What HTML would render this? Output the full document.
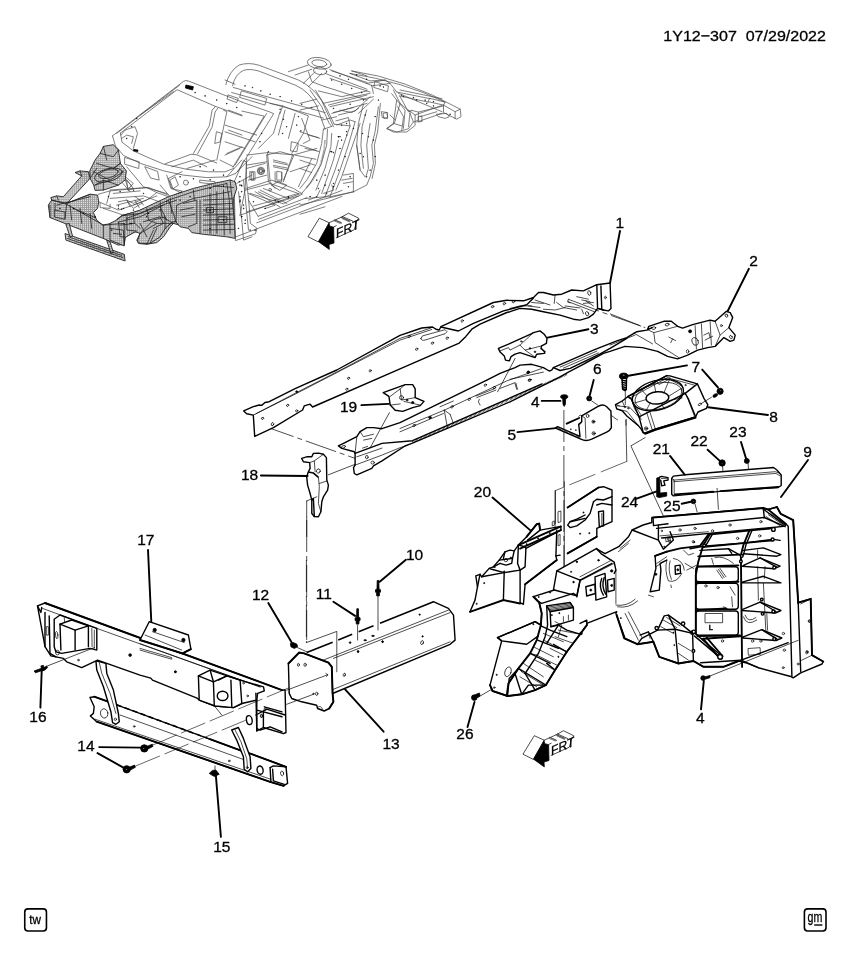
<!DOCTYPE html>
<html><head><meta charset="utf-8"><title>1Y12-307</title>
<style>
html,body{margin:0;padding:0;background:#fff}
svg{display:block;filter:grayscale(1)}
text{font-family:"Liberation Sans",sans-serif;fill:#000;stroke:#000;stroke-width:0.3px}
.k{fill:none;stroke:#000;stroke-width:1.4;stroke-linejoin:round;stroke-linecap:round}
.kw{fill:#fff;stroke:#000;stroke-width:1.4;stroke-linejoin:round;stroke-linecap:round}
.kb{fill:#000;stroke:#000;stroke-width:0.8;stroke-linejoin:round}
.t{fill:none;stroke:#000;stroke-width:0.7;stroke-linejoin:round;stroke-linecap:round}
.tw{fill:#fff;stroke:#000;stroke-width:0.7;stroke-linejoin:round;stroke-linecap:round}
.ld{fill:none;stroke:#000;stroke-width:1.9;stroke-linecap:round}
.dd{fill:none;stroke:#000;stroke-width:0.7;stroke-dasharray:32 4 5 4}
.g{fill:none;stroke:#484848;stroke-width:0.7;stroke-linejoin:round;stroke-linecap:round}
.gw{fill:#fff;stroke:#484848;stroke-width:0.7;stroke-linejoin:round}
.h{fill:url(#hatch);stroke:#222;stroke-width:0.9;stroke-linejoin:round}
.hd{fill:none;stroke:#222;stroke-width:0.8;stroke-linejoin:round;stroke-linecap:round}
.wf{fill:#fff;stroke:none}
.lb{font-size:15.5px}
</style></head>
<body>
<svg width="851" height="960" viewBox="0 0 851 960">
<defs>
<pattern id="hatch" width="2.05" height="2.05" patternUnits="userSpaceOnUse">
<rect width="2.05" height="2.05" fill="#e0e0e0"/>
<rect width="2.05" height="0.75" fill="#999"/>
<rect width="0.75" height="2.05" fill="#999"/>
</pattern>
</defs>
<rect width="851" height="960" fill="#fff"/>
<path class="g" d="M 112.5,135.9 L 183.4,81.4 Q 185.4,80.0 188.4,81.0 L 242.0,102.0"/>
<path class="g" d="M 116.7,133.4 L 179.8,85.0"/>
<path class="g" d="M 120.4,133.1 L 177.1,89.7 L 215.5,106.4 L 242.0,115.9"/>
<path class="g" d="M 140.0,115.1 L 173.4,91.7"/>
<path class="g" d="M 215.5,106.4 L 212.1,110.1 L 209.3,125.9 L 193.4,153.4"/>
<path class="g" d="M 217.6,108.4 L 215.1,112.1 L 212.1,127.1 L 197.6,153.8"/>
<path class="g" d="M 112.5,135.9 L 115.4,145.9 L 123.4,155.4 L 141.7,163.8 L 164.2,171.0 L 183.4,175.1 L 206.8,177.6 L 226.8,176.8 L 235.5,173.5"/>
<path class="g" d="M 120.4,133.1 L 122.0,142.1 L 133.4,150.9 L 150.1,158.4 L 164.2,164.3 L 186.8,169.3 L 208.5,171.8 L 225.1,171.8 L 233.5,168.5"/>
<path class="g" d="M 165.1,163.8 L 190.9,154.3 L 196.8,154.8 L 216.8,163.1"/>
<path class="g" d="M 186.8,168.5 L 215.1,160.1"/>
<path class="g" d="M 171.8,166.8 L 193.4,160.1 L 206.8,166.8"/>
<path class="g" d="M 120.9,135.1 L 125.0,130.1 L 135.0,126.7 L 137.5,133.4 L 133.4,148.4"/>
<path class="g" d="M 121.7,138.4 L 126.7,135.1 L 133.4,136.8 L 131.7,143.4"/>
<path class="g" d="M 216.8,131.8 L 221.8,133.4 L 220.1,141.8 L 215.1,143.4 Z"/>
<path class="g" d="M 223.5,110.1 L 226.8,111.7 L 216.8,160.1"/>
<path class="g" d="M 228.5,110.1 L 242.0,115.1"/>
<path class="g" d="M 228.5,130.1 L 242.0,135.1"/>
<path class="g" d="M 226.8,153.4 L 242.0,146.8"/>
<path class="g" d="M 220.1,160.1 L 233.5,166.8"/>
<path class="g" d="M 125.0,157.6 L 139.2,161.8 L 138.7,168.5 L 125.0,164.3 Z"/>
<path class="g" d="M 145.1,166.8 L 157.6,171.5 L 159.2,180.1 L 150.9,178.1 Z"/>
<path class="g" d="M 166.7,175.1 L 170.9,188.5 L 181.8,191.0"/>
<path class="g" d="M 170.1,180.1 L 175.1,176.8 L 178.4,185.1 L 173.4,188.5 Z"/>
<path class="g" d="M 200.1,180.1 L 215.1,181.8 L 215.1,184.3 L 200.1,182.6 Z"/>
<path class="g" d="M 126.7,166.8 L 143.4,186.8 L 166.7,193.5"/>
<path class="g" d="M 123.4,175.1 L 133.4,183.5 L 130.0,186.8"/>
<circle class="g" cx="185.9" cy="182.6" r="2.50"/>
<circle class="kb" cx="195.1" cy="92.5" r="0.37"/>
<circle class="kb" cx="205.1" cy="95.9" r="0.37"/>
<circle class="kb" cx="216.8" cy="100.0" r="0.37"/>
<circle class="kb" cx="226.8" cy="103.7" r="0.37"/>
<circle class="kb" cx="236.8" cy="107.6" r="0.37"/>
<circle class="kb" cx="190.1" cy="87.5" r="0.37"/>
<circle class="kb" cx="136.7" cy="118.4" r="0.37"/>
<circle class="kb" cx="131.7" cy="126.7" r="0.37"/>
<circle class="kb" cx="126.7" cy="138.4" r="0.37"/>
<circle class="kb" cx="180.1" cy="176.8" r="0.37"/>
<circle class="kb" cx="193.4" cy="178.8" r="0.37"/>
<circle class="kb" cx="210.1" cy="179.8" r="0.37"/>
<circle class="kb" cx="223.5" cy="175.1" r="0.37"/>
<circle class="kb" cx="200.1" cy="166.8" r="0.37"/>
<circle class="kb" cx="213.5" cy="170.1" r="0.37"/>
<path class="kb" d="M 185.9,85.0 L 193.4,86.7 L 192.6,90.0 L 185.4,88.0 Z"/>
<path class="kb" d="M 133.7,149.4 L 138.0,150.1 L 137.7,151.6 L 133.4,150.8 Z"/>
<path class="g" d="M 98.4,194.2 L 110.1,190.9 L 146.8,187.6 L 156.8,192.6 L 168.5,196.7"/>
<path class="g" d="M 98.7,201.8 L 118.4,210.1 L 133.4,205.1 L 156.8,195.9"/>
<path class="g" d="M 103.4,208.4 L 118.4,213.4 L 123.4,215.4"/>
<path class="g" d="M 110.1,190.9 L 106.7,203.4"/>
<path class="g" d="M 126.8,180.1 L 133.4,188.4 L 128.4,190.4 Z"/>
<path class="g" d="M 113.4,193.4 L 140.1,190.9"/>
<path class="g" d="M 118.4,201.8 L 126.8,200.1 L 133.4,203.4 L 140.1,200.1 L 135.1,196.7"/>
<path class="g" d="M 126.8,200.1 L 130.1,206.8"/>
<path class="g" d="M 140.1,200.1 L 143.5,205.1"/>
<path class="g" d="M 100.1,203.4 L 100.1,207.6 L 110.1,208.4 L 110.1,204.3"/>
<path class="g" d="M 156.8,192.6 L 146.8,200.1 L 133.4,205.1"/>
<path class="g" d="M 168.5,178.4 L 182.0,171.7"/>
<path class="g" d="M 168.5,178.4 L 171.8,188.4 L 182.0,193.4"/>
<path class="g" d="M 160.1,185.1 L 170.2,196.7"/>
<circle class="kb" cx="108.4" cy="196.7" r="0.33"/>
<circle class="kb" cx="120.1" cy="191.7" r="0.33"/>
<circle class="kb" cx="133.4" cy="190.1" r="0.33"/>
<circle class="kb" cx="143.5" cy="193.4" r="0.33"/>
<circle class="kb" cx="123.4" cy="208.4" r="0.33"/>
<circle class="kb" cx="133.4" cy="210.1" r="0.33"/>
<circle class="kb" cx="118.4" cy="205.9" r="0.33"/>
<path class="g" d="M 110.0,190.0 L 148.4,187.5 L 168.4,195.1"/>
<path class="g" d="M 110.0,198.4 L 143.4,195.9 L 160.1,202.1"/>
<path class="g" d="M 116.7,205.1 L 143.4,198.4"/>
<path class="g" d="M 126.7,200.1 L 133.4,208.4 L 141.7,203.4"/>
<path class="g" d="M 135.0,200.1 L 139.2,207.6"/>
<path class="g" d="M 120.0,180.0 L 130.0,191.7"/>
<path class="g" d="M 125.0,178.4 L 131.7,185.9 L 128.4,188.4 Z"/>
<path class="g" d="M 236.8,183.4 L 252.0,175.0"/>
<path class="g" d="M 238.5,191.7 L 241.8,220.1 L 243.5,240.1 L 252.0,236.8"/>
<path class="g" d="M 243.5,180.0 L 248.5,230.1"/>
<path class="g" d="M 235.5,173.4 L 252.0,156.7"/>
<path class="g" d="M 226.8,176.7 L 241.8,160.0"/>
<circle class="kb" cx="239.3" cy="181.7" r="0.33"/>
<circle class="kb" cx="241.8" cy="185.9" r="0.33"/>
<circle class="kb" cx="240.2" cy="200.1" r="0.33"/>
<circle class="kb" cx="243.5" cy="205.1" r="0.33"/>
<circle class="kb" cx="241.8" cy="216.7" r="0.33"/>
<circle class="kb" cx="245.2" cy="220.1" r="0.33"/>
<circle class="kb" cx="238.5" cy="228.4" r="0.33"/>
<circle class="kb" cx="118.3" cy="208.4" r="0.33"/>
<circle class="kb" cx="121.7" cy="209.2" r="0.33"/>
<path class="g" d="M 225.8,84.7 Q 229.2,70.9 239.2,65.0 Q 248.4,62.0 259.2,65.3 L 298.4,80.0 Q 312.6,86.7 321.8,100.9 L 333.5,126.8"/>
<path class="g" d="M 232.5,85.9 Q 235.0,74.2 243.4,70.4 Q 250.0,68.3 259.2,71.2 L 295.9,85.4 Q 309.3,91.7 316.4,105.1 L 325.1,129.3"/>
<path class="g" d="M 241.9,102.1 L 270.1,112.1 L 273.7,113.7 L 237.5,171.8"/>
<path class="g" d="M 241.9,111.1 L 264.2,116.1 L 233.0,167.1"/>
<path class="g" d="M 266.7,113.4 L 235.0,165.1"/>
<path class="g" d="M 233.3,87.5 L 325.1,112.6"/>
<path class="g" d="M 231.7,92.5 L 323.4,118.1"/>
<path class="g" d="M 225.0,80.0 L 235.0,84.2"/>
<path class="g" d="M 241.7,90.9 L 266.7,98.4 L 265.0,105.1 L 240.0,97.5 Z"/>
<path class="g" d="M 228.3,95.0 L 238.3,98.4 L 236.7,102.6 L 227.5,99.2 Z"/>
<path class="g" d="M 270.1,103.4 L 282.6,105.9 L 280.1,113.4"/>
<path class="g" d="M 282.6,105.9 L 308.4,115.9 L 303.4,133.4 L 291.7,153.4"/>
<path class="g" d="M 280.1,111.7 L 273.4,133.4 L 258.4,148.4"/>
<path class="g" d="M 285.1,110.1 L 278.4,135.1"/>
<path class="g" d="M 295.1,113.4 L 288.4,138.4"/>
<path class="g" d="M 225.0,125.1 L 256.7,135.1"/>
<path class="g" d="M 225.0,131.8 L 255.0,141.8"/>
<path class="g" d="M 225.0,155.1 L 240.0,148.4"/>
<path class="g" d="M 225.0,141.8 L 245.0,148.4"/>
<path class="g" d="M 246.7,155.1 L 267.5,152.6 L 292.6,154.8"/>
<path class="g" d="M 267.5,152.6 L 270.1,181.8 L 275.1,188.5"/>
<path class="g" d="M 292.6,154.8 L 283.4,181.8"/>
<path class="g" d="M 291.7,141.8 L 298.4,143.4 L 296.8,151.8 L 290.9,150.9 Z"/>
<path class="g" d="M 273.4,161.8 L 288.4,165.1"/>
<path class="g" d="M 273.4,166.8 L 288.4,170.1"/>
<path class="g" d="M 275.1,171.8 L 275.1,181.8 L 281.7,181.8 L 281.7,172.6"/>
<path class="g" d="M 246.7,158.5 L 245.0,190.2 L 240.0,215.2"/>
<path class="g" d="M 246.7,165.1 L 266.7,161.8"/>
<path class="g" d="M 251.7,171.8 L 255.0,171.8 L 255.0,180.1 L 251.7,180.1 Z"/>
<path class="g" d="M 245.0,190.2 L 270.1,183.5 L 298.4,193.5"/>
<path class="g" d="M 258.4,191.8 L 280.1,201.8"/>
<path class="g" d="M 263.4,188.5 L 288.4,198.5"/>
<path class="g" d="M 248.4,193.5 L 275.1,205.2 L 265.0,208.5"/>
<path class="g" d="M 308.4,135.1 L 318.4,137.6"/>
<path class="g" d="M 305.1,148.4 L 316.8,150.9"/>
<path class="g" d="M 295.1,155.1 L 311.8,158.5 L 298.4,186.8"/>
<path class="g" d="M 311.8,158.5 L 315.9,159.3"/>
<path class="g" d="M 240.0,215.2 L 300.1,193.8"/>
<path class="g" d="M 246.7,211.8 L 298.4,196.0"/>
<path class="g" d="M 253.4,206.0 L 298.4,193.5"/>
<path class="g" d="M 288.4,71.7 L 308.4,65.0"/>
<path class="g" d="M 295.1,75.0 L 311.8,69.2"/>
<path class="g" d="M 331.8,70.9 L 367.0,82.5"/>
<path class="g" d="M 325.1,73.4 L 367.0,89.2"/>
<path class="g" d="M 325.1,86.7 L 367.0,100.1"/>
<path class="g" d="M 328.5,105.1 L 367.0,95.0"/>
<path class="g" d="M 331.8,113.4 L 367.0,103.4"/>
<path class="g" d="M 318.4,90.9 L 341.8,96.7 L 367.0,90.9"/>
<path class="g" d="M 340.1,110.1 L 351.8,112.6 L 358.5,108.4"/>
<path class="g" d="M 303.4,83.4 L 315.1,71.7"/>
<path class="g" d="M 308.4,86.7 L 321.8,73.4"/>
<path class="g" d="M 308.4,71.7 L 311.8,81.7 L 325.1,86.7"/>
<path class="g" d="M 351.8,70.9 L 367.0,75.9"/>
<ellipse class="g" cx="319.3" cy="63.3" rx="12.01" ry="5.67" transform="rotate(8 319.3 63.3)"/>
<ellipse class="g" cx="319.3" cy="63.3" rx="7.51" ry="3.34" transform="rotate(8 319.3 63.3)"/>
<ellipse class="g" cx="320.1" cy="70.9" rx="6.67" ry="3.67" transform="rotate(8 320.1 70.9)"/>
<circle class="g" cx="260.9" cy="171.0" r="3.00"/>
<circle class="g" cx="260.9" cy="171.0" r="1.50"/>
<circle class="kb" cx="245.0" cy="85.9" r="0.33"/>
<circle class="kb" cx="252.5" cy="87.5" r="0.33"/>
<circle class="kb" cx="260.9" cy="90.9" r="0.33"/>
<circle class="kb" cx="270.1" cy="94.2" r="0.33"/>
<circle class="kb" cx="280.1" cy="96.7" r="0.33"/>
<circle class="kb" cx="291.7" cy="100.9" r="0.33"/>
<circle class="kb" cx="301.8" cy="104.2" r="0.33"/>
<circle class="kb" cx="311.8" cy="107.6" r="0.33"/>
<circle class="kb" cx="280.1" cy="109.2" r="0.33"/>
<circle class="kb" cx="283.4" cy="119.2" r="0.33"/>
<circle class="kb" cx="286.7" cy="126.8" r="0.33"/>
<circle class="kb" cx="282.6" cy="133.4" r="0.33"/>
<circle class="kb" cx="298.4" cy="116.7" r="0.33"/>
<circle class="kb" cx="296.8" cy="125.1" r="0.33"/>
<circle class="kb" cx="300.9" cy="130.9" r="0.33"/>
<circle class="kb" cx="261.7" cy="133.4" r="0.33"/>
<circle class="kb" cx="260.0" cy="141.8" r="0.33"/>
<circle class="kb" cx="268.4" cy="151.8" r="0.33"/>
<circle class="kb" cx="331.8" cy="80.0" r="0.33"/>
<circle class="kb" cx="341.8" cy="84.2" r="0.33"/>
<circle class="kb" cx="351.8" cy="88.4" r="0.33"/>
<circle class="kb" cx="361.8" cy="92.5" r="0.33"/>
<circle class="kb" cx="338.5" cy="136.8" r="0.33"/>
<circle class="kb" cx="331.8" cy="151.8" r="0.33"/>
<circle class="kb" cx="325.1" cy="175.1" r="0.33"/>
<circle class="kb" cx="318.4" cy="188.5" r="0.33"/>
<circle class="kb" cx="341.8" cy="125.1" r="0.33"/>
<circle class="kb" cx="346.8" cy="135.1" r="0.33"/>
<circle class="kb" cx="240.0" cy="176.8" r="0.33"/>
<circle class="kb" cx="241.7" cy="185.2" r="0.33"/>
<circle class="kb" cx="240.0" cy="196.8" r="0.33"/>
<circle class="kb" cx="253.4" cy="201.8" r="0.33"/>
<circle class="kb" cx="275.1" cy="200.2" r="0.33"/>
<circle class="kb" cx="288.4" cy="196.8" r="0.33"/>
<path class="g" d="M 351.7,70.9 Q 405.1,78.4 460.2,109.2 L 461.0,116.7 L 456.8,119.2 L 443.5,112.6 L 443.5,105.1"/>
<path class="g" d="M 350.0,73.4 Q 403.4,81.7 445.1,102.1"/>
<path class="g" d="M 460.2,109.2 L 455.1,111.7 L 455.1,118.7"/>
<path class="g" d="M 443.5,105.1 L 455.1,111.7"/>
<path class="g" d="M 430.1,98.4 L 445.1,102.1 L 443.5,105.1 L 428.4,101.7 Z"/>
<path class="g" d="M 436.8,114.2 L 446.8,113.4 L 449.3,116.7 L 445.1,118.4 L 438.5,116.7 Z"/>
<path class="g" d="M 350.0,73.4 L 370.0,80.9 L 385.1,80.0"/>
<path class="g" d="M 366.7,83.4 L 385.1,80.0 L 390.1,83.4 L 396.7,92.0"/>
<path class="g" d="M 371.7,85.9 L 390.1,83.4"/>
<path class="g" d="M 396.7,92.0 L 430.1,98.7"/>
<path class="g" d="M 399.2,95.9 L 428.4,102.1"/>
<path class="g" d="M 418.4,112.1 L 443.5,105.9"/>
<path class="g" d="M 411.8,110.4 L 418.4,112.1 L 418.4,120.1 L 413.4,122.1 L 410.1,113.4"/>
<path class="g" d="M 420.1,116.7 L 436.8,111.7"/>
<path class="g" d="M 391.7,93.7 L 396.7,100.1 L 393.4,123.4 L 386.7,128.4 L 396.7,132.1 L 408.4,128.8 L 413.4,122.1"/>
<path class="g" d="M 396.7,100.1 L 405.1,110.1 L 403.4,128.4"/>
<path class="g" d="M 400.1,96.7 L 408.4,111.7 L 411.8,110.4"/>
<path class="g" d="M 393.4,123.4 L 401.8,125.9"/>
<path class="g" d="M 381.7,111.7 L 387.6,112.6 L 387.6,118.4 L 382.6,117.6 Z"/>
<path class="g" d="M 330.0,69.7 L 371.7,85.4"/>
<path class="g" d="M 330.0,78.4 L 370.0,92.0"/>
<path class="g" d="M 371.7,85.4 L 373.4,93.4"/>
<path class="g" d="M 375.1,81.7 L 388.4,85.9 L 387.6,91.7 L 374.2,87.5 Z"/>
<circle class="kb" cx="356.7" cy="75.0" r="0.33"/>
<circle class="kb" cx="366.7" cy="79.2" r="0.33"/>
<circle class="kb" cx="401.8" cy="95.1" r="0.33"/>
<circle class="kb" cx="413.4" cy="97.6" r="0.33"/>
<circle class="kb" cx="425.1" cy="100.1" r="0.33"/>
<circle class="kb" cx="433.5" cy="101.7" r="0.33"/>
<circle class="kb" cx="450.1" cy="114.2" r="0.33"/>
<circle class="kb" cx="340.0" cy="75.9" r="0.33"/>
<circle class="kb" cx="348.4" cy="79.2" r="0.33"/>
<circle class="kb" cx="378.4" cy="100.1" r="0.33"/>
<circle class="kb" cx="375.1" cy="116.7" r="0.33"/>
<circle class="kb" cx="368.4" cy="136.8" r="0.33"/>
<circle class="kb" cx="363.4" cy="156.8" r="0.33"/>
<circle class="kb" cx="366.7" cy="176.8" r="0.33"/>
<circle class="kb" cx="346.7" cy="123.4" r="0.33"/>
<circle class="kb" cx="340.0" cy="136.8" r="0.33"/>
<circle class="kb" cx="380.1" cy="85.9" r="0.33"/>
<circle class="kb" cx="383.4" cy="87.0" r="0.33"/>
<path class="g" d="M 310.0,90.0 L 321.7,106.7 L 329.2,123.4 L 331.7,126.4"/>
<path class="g" d="M 315.4,90.0 L 326.7,108.4 L 334.2,124.2"/>
<path class="g" d="M 323.4,129.2 L 321.7,143.4 L 316.7,163.4 L 306.7,180.1 L 300.0,188.4"/>
<path class="g" d="M 327.5,129.2 L 326.7,145.1 L 320.9,165.1 L 310.0,183.4 L 301.7,193.5"/>
<path class="g" d="M 331.7,126.4 L 323.4,129.2"/>
<path class="g" d="M 334.2,124.2 L 350.1,125.9 L 343.4,145.1 L 335.0,170.1 L 325.0,196.8"/>
<path class="g" d="M 355.1,121.7 L 348.4,145.1 L 340.0,170.1 L 330.0,196.8"/>
<path class="g" d="M 360.1,123.4 L 341.7,176.8 L 335.9,190.1"/>
<path class="g" d="M 331.7,133.4 L 330.9,146.7 L 325.0,168.4 L 315.9,190.1"/>
<path class="g" d="M 338.4,140.1 L 333.4,160.1 L 321.7,193.5"/>
<path class="g" d="M 363.4,104.2 L 358.4,123.4 L 356.7,145.1 L 360.1,170.1"/>
<path class="g" d="M 366.7,110.0 L 362.1,126.7 L 360.9,145.1 L 363.4,168.4"/>
<path class="g" d="M 378.4,106.7 L 375.1,131.7 L 371.8,145.1 L 373.4,163.4 L 370.1,176.8 L 366.7,185.1 L 353.4,191.8"/>
<path class="g" d="M 380.4,103.3 L 377.6,131.7 L 374.4,145.1 L 375.4,163.4 L 372.1,178.4"/>
<path class="g" d="M 370.1,123.4 L 366.7,145.1 L 368.4,168.4 L 365.9,176.8"/>
<path class="g" d="M 300.0,205.1 L 353.4,191.8"/>
<path class="g" d="M 300.0,214.3 L 325.0,206.8"/>
<path class="g" d="M 305.0,198.5 L 325.0,196.8 L 330.0,196.8 L 353.4,191.8"/>
<path class="g" d="M 343.4,175.1 L 353.4,173.4 L 353.4,191.8"/>
<path class="g" d="M 341.7,180.1 L 352.1,178.4"/>
<path class="g" d="M 343.4,183.4 L 352.6,181.8"/>
<path class="g" d="M 356.7,145.1 L 360.1,170.1 L 365.1,176.8"/>
<path class="g" d="M 336.7,125.0 L 350.1,120.0 L 355.1,121.7"/>
<path class="g" d="M 335.9,120.9 L 348.4,117.5 L 350.1,125.9"/>
<path class="g" d="M 323.4,103.3 L 370.1,93.3"/>
<path class="g" d="M 330.0,106.7 L 373.4,96.7"/>
<path class="g" d="M 333.4,112.5 L 353.4,107.5"/>
<path class="g" d="M 338.4,115.0 L 355.1,110.9"/>
<path class="g" d="M 355.1,110.9 L 370.1,96.7"/>
<path class="g" d="M 358.4,113.4 L 373.4,99.2"/>
<path class="g" d="M 321.7,120.0 L 336.7,116.7"/>
<path class="g" d="M 300.0,103.3 L 316.7,99.2"/>
<path class="g" d="M 300.0,110.0 L 318.4,105.9"/>
<path class="g" d="M 300.0,131.7 L 320.0,138.4"/>
<path class="g" d="M 300.0,145.1 L 319.2,151.7"/>
<path class="g" d="M 300.0,160.1 L 315.0,165.1"/>
<path class="g" d="M 300.0,168.4 L 311.7,172.6"/>
<path class="g" d="M 301.7,118.4 L 310.0,140.1 L 303.3,143.4"/>
<path class="g" d="M 393.4,90.0 L 400.1,103.3 L 394.3,123.4 L 386.8,128.7 L 393.4,132.0 L 406.8,132.0 L 415.1,125.4 L 415.1,115.0 L 408.5,110.0"/>
<path class="g" d="M 400.1,103.3 L 410.1,112.0 L 408.5,126.7"/>
<path class="g" d="M 397.6,106.7 L 403.5,116.7 L 401.8,130.0"/>
<path class="g" d="M 390.1,115.0 L 395.1,120.0"/>
<path class="g" d="M 383.4,113.4 L 386.8,112.5 L 387.6,117.5 L 384.3,118.4 Z"/>
<path class="g" d="M 398.4,93.3 L 442.0,111.7"/>
<path class="g" d="M 400.1,90.0 L 442.0,98.7"/>
<path class="g" d="M 415.1,115.0 L 442.0,105.4"/>
<path class="g" d="M 416.8,122.0 L 442.0,113.4"/>
<path class="g" d="M 418.5,116.7 L 421.8,115.9 L 422.1,121.4 L 418.8,122.0 Z"/>
<path d="M325.0,140.1 Q323.0,170.3 305.8,188.4" fill="none" stroke="#555" stroke-width="1.6" stroke-dasharray="0.5 0.6"/>
<circle class="kb" cx="338.4" cy="136.7" r="0.33"/>
<circle class="kb" cx="341.7" cy="140.1" r="0.33"/>
<circle class="kb" cx="330.9" cy="151.7" r="0.33"/>
<circle class="kb" cx="333.4" cy="152.6" r="0.33"/>
<circle class="kb" cx="340.0" cy="148.4" r="0.33"/>
<circle class="kb" cx="346.7" cy="131.7" r="0.33"/>
<circle class="kb" cx="353.4" cy="128.4" r="0.33"/>
<circle class="kb" cx="345.1" cy="156.7" r="0.33"/>
<circle class="kb" cx="338.4" cy="170.1" r="0.33"/>
<circle class="kb" cx="333.4" cy="183.4" r="0.33"/>
<circle class="kb" cx="326.7" cy="193.5" r="0.33"/>
<circle class="kb" cx="365.1" cy="115.0" r="0.33"/>
<circle class="kb" cx="362.6" cy="133.4" r="0.33"/>
<circle class="kb" cx="360.1" cy="153.4" r="0.33"/>
<circle class="kb" cx="373.4" cy="140.1" r="0.33"/>
<circle class="kb" cx="375.1" cy="156.7" r="0.33"/>
<circle class="kb" cx="370.1" cy="170.1" r="0.33"/>
<circle class="kb" cx="350.1" cy="176.8" r="0.33"/>
<circle class="kb" cx="348.4" cy="186.8" r="0.33"/>
<circle class="kb" cx="316.7" cy="196.8" r="0.33"/>
<circle class="kb" cx="333.4" cy="108.4" r="0.33"/>
<circle class="kb" cx="350.1" cy="104.2" r="0.33"/>
<circle class="kb" cx="363.4" cy="100.0" r="0.33"/>
<circle class="kb" cx="426.8" cy="103.3" r="0.33"/>
<circle class="kb" cx="433.5" cy="105.9" r="0.33"/>
<circle class="kb" cx="403.5" cy="96.7" r="0.33"/>
<circle class="kb" cx="416.8" cy="100.0" r="0.33"/>
<path class="g" d="M 234.2,181.7 L 243.7,160.4 L 246.4,162.0 L 246.4,180.1 L 248.7,200.1 L 250.4,223.4 L 257.1,228.4 L 255.4,233.8 L 235.9,240.5 Z"/>
<path class="g" d="M 235.9,236.8 L 342.0,196.4"/>
<path class="g" d="M 256.7,222.8 L 342.0,190.4"/>
<path class="g" d="M 258.4,216.1 L 306.8,197.7"/>
<path class="g" d="M 258.7,219.3 L 300.1,203.4"/>
<path class="g" d="M 245.9,188.4 L 271.8,180.1 L 293.4,188.4 L 302.1,193.7"/>
<path class="g" d="M 248.4,200.1 L 258.4,216.8"/>
<path class="g" d="M 250.1,193.4 L 283.4,203.8 L 302.1,194.2"/>
<path class="g" d="M 255.1,191.7 L 280.1,207.1"/>
<path class="g" d="M 260.1,190.1 L 286.8,203.4"/>
<path class="g" d="M 266.7,155.0 L 268.4,181.7 L 272.1,185.4"/>
<path class="g" d="M 266.7,155.0 L 280.1,151.7 L 293.8,155.4 L 283.4,180.1"/>
<path class="g" d="M 273.4,160.0 L 287.1,163.4"/>
<path class="g" d="M 273.4,165.4 L 287.1,168.0"/>
<path class="g" d="M 276.8,171.7 L 276.8,180.1 L 281.8,180.1 L 281.8,172.5 Z"/>
<path class="g" d="M 271.8,185.1 L 278.4,181.7 L 286.8,185.1 L 280.1,190.1 Z"/>
<path class="g" d="M 246.7,168.4 L 265.1,163.4"/>
<path class="g" d="M 248.4,180.1 L 266.7,175.1"/>
<path class="g" d="M 250.1,171.7 L 253.4,172.5 L 253.4,180.1 L 250.4,179.7 Z"/>
<path class="g" d="M 293.4,155.0 L 316.8,148.4"/>
<path class="g" d="M 290.1,171.7 L 310.1,165.0"/>
<path class="g" d="M 308.5,200.1 L 316.8,196.7 L 320.1,190.1"/>
<path class="g" d="M 323.5,193.4 L 333.5,190.1 L 331.8,185.1"/>
<circle class="g" cx="260.9" cy="170.9" r="3.67"/>
<circle class="g" cx="260.9" cy="170.9" r="2.00"/>
<circle class="g" cx="270.1" cy="189.7" r="1.33"/>
<circle class="kb" cx="240.0" cy="185.1" r="0.37"/>
<circle class="kb" cx="241.7" cy="191.7" r="0.37"/>
<circle class="kb" cx="240.0" cy="201.8" r="0.37"/>
<circle class="kb" cx="243.7" cy="208.4" r="0.37"/>
<circle class="kb" cx="241.7" cy="216.8" r="0.37"/>
<circle class="kb" cx="245.1" cy="223.4" r="0.37"/>
<circle class="kb" cx="250.1" cy="230.1" r="0.37"/>
<circle class="kb" cx="255.1" cy="230.1" r="0.37"/>
<circle class="kb" cx="265.1" cy="208.4" r="0.37"/>
<circle class="kb" cx="278.4" cy="201.8" r="0.37"/>
<circle class="kb" cx="288.4" cy="197.6" r="0.37"/>
<circle class="kb" cx="316.8" cy="180.1" r="0.37"/>
<circle class="kb" cx="325.1" cy="185.1" r="0.37"/>
<circle class="kb" cx="333.5" cy="186.7" r="0.37"/>
<circle class="kb" cx="310.1" cy="196.7" r="0.37"/>
<path class="h" d="M 103.4,146.4 L 113.4,144.7 L 118.4,150.0 L 120.4,163.4 L 126.4,170.9 L 125.1,180.1 L 118.4,185.1 L 103.4,190.1 L 95.1,190.4 L 93.7,185.1 L 90.1,178.4 L 89.7,170.9 L 95.1,160.0 L 100.1,153.4 Z"/>
<path class="h" d="M 75.0,172.5 L 80.0,170.9 L 88.4,171.7 L 90.1,178.4 L 68.4,201.8 L 63.4,204.3 L 51.7,200.1 L 50.8,197.6 L 56.7,195.9 L 63.4,196.7 L 81.7,175.9 Z"/>
<path class="h" d="M 48.3,205.1 L 51.7,200.1 L 66.7,203.4 L 90.1,194.2 L 97.6,195.1 L 98.7,201.8 L 97.6,208.4 L 93.4,212.6 L 96.7,220.1 L 102.6,225.1 L 118.4,222.1 L 116.8,219.3 L 122.6,215.1 L 136.8,211.8 L 160.1,201.8 L 182.0,191.7 L 182.0,225.9 L 173.5,223.4 L 170.2,226.8 L 163.5,236.8 L 156.8,242.6 L 146.8,244.3 L 138.4,243.5 L 136.8,240.1 L 140.1,233.5 L 136.8,231.0 L 125.1,236.8 L 124.3,244.3 L 118.4,245.1 L 103.4,238.5 L 50.0,217.6 Z"/>
<path class="h" d="M 65.0,233.5 L 124.3,254.3 L 125.1,261.0 L 65.9,240.1 Z"/>
<path class="h" d="M 65.9,224.3 L 69.2,223.4 L 72.5,236.0 L 70.0,236.8 Z"/>
<path class="h" d="M 106.7,240.1 L 110.1,241.8 L 113.4,252.6 L 110.9,253.5 Z"/>
<path class="h" d="M 116.7,220.1 L 121.7,215.9 L 140.0,210.1 L 168.4,196.7 L 193.4,188.4 L 213.5,183.4 L 230.1,180.0 L 235.1,181.7 L 236.8,188.4 L 233.5,198.4 L 234.3,220.1 L 235.1,238.4 L 226.8,236.8 L 203.4,234.3 L 191.8,232.6 L 188.4,228.4 L 180.1,226.8 L 175.9,221.8 L 172.6,221.8 L 165.1,228.4 L 160.1,236.8 L 150.0,243.4 L 140.0,243.4 L 137.5,240.9 L 140.0,233.4 L 135.0,231.8 L 125.0,237.6 L 124.2,245.9 L 110.0,240.1 L 110.0,223.4 Z"/>
<path class="hd" d="M 51.7,200.1 L 66.7,204.3 L 103.4,225.1 L 124.3,223.4"/>
<path class="hd" d="M 66.7,204.3 L 65.0,218.4"/>
<path class="hd" d="M 55.0,210.1 L 65.0,212.1 L 65.0,219.3 L 55.0,217.1 Z"/>
<path class="hd" d="M 90.1,194.2 L 66.7,203.4"/>
<path class="hd" d="M 124.3,223.4 L 124.3,245.1"/>
<path class="hd" d="M 50.0,217.6 L 50.0,205.1"/>
<path class="hd" d="M 103.4,225.1 L 103.4,238.5"/>
<path class="hd" d="M 93.4,171.7 L 110.1,180.1 L 123.4,171.7"/>
<path class="hd" d="M 95.1,185.1 L 110.1,180.1"/>
<path class="hd" d="M 96.7,163.4 L 113.4,168.4 L 120.1,163.4"/>
<path class="hd" d="M 103.4,146.4 L 106.7,160.0"/>
<path class="hd" d="M 118.4,222.1 L 140.1,216.8 L 163.5,205.1"/>
<path class="hd" d="M 140.1,233.5 L 156.8,223.4 L 173.5,223.4"/>
<path class="hd" d="M 146.8,244.3 L 153.5,230.1"/>
<path class="hd" d="M 56.7,195.9 L 58.4,200.1"/>
<path class="hd" d="M 81.7,175.9 L 80.0,170.9"/>
<ellipse class="hd" cx="108.4" cy="175.1" rx="14.18" ry="6.34" transform="rotate(-15 108.4 175.1)"/>
<ellipse class="hd" cx="108.4" cy="173.7" rx="10.01" ry="4.17" transform="rotate(-15 108.4 173.7)"/>
<path class="hd" d="M 100.1,153.4 L 113.4,156.7 L 118.4,150.0"/>
<path class="hd" d="M 96.7,168.4 L 90.1,178.4"/>
<path class="hd" d="M 113.4,168.4 L 120.4,163.4"/>
<path class="hd" d="M 95.1,185.1 L 103.4,180.1 L 118.4,185.1"/>
<path class="hd" d="M 103.4,190.1 L 103.4,180.1"/>
<path class="hd" d="M 56.7,205.1 L 90.1,196.7"/>
<path class="hd" d="M 70.0,205.1 L 71.7,220.1"/>
<path class="hd" d="M 80.0,208.4 L 81.7,223.4"/>
<path class="hd" d="M 90.1,213.4 L 91.7,228.4"/>
<path class="hd" d="M 73.4,208.4 L 95.1,217.6"/>
<path class="hd" d="M 55.0,203.4 L 55.0,210.1"/>
<path class="hd" d="M 126.8,216.8 L 126.8,230.1 L 136.8,231.0"/>
<path class="hd" d="M 133.4,213.4 L 134.3,223.4"/>
<path class="hd" d="M 146.8,208.4 L 148.5,220.1 L 156.8,223.4"/>
<path class="hd" d="M 160.1,201.8 L 161.8,216.8 L 173.5,223.4"/>
<path class="hd" d="M 170.2,198.4 L 171.8,213.4"/>
<path class="hd" d="M 68.4,236.8 L 121.8,255.5"/>
<path class="hd" d="M 67.5,238.5 L 122.6,257.6"/>
<path class="hd" d="M 140.1,223.4 L 146.8,236.8"/>
<path class="hd" d="M 118.4,222.1 L 120.1,236.8 L 124.3,236.8"/>
<path class="hd" d="M 121.7,215.9 L 140.0,213.4 L 168.4,200.1 L 193.4,191.7 L 226.8,183.4"/>
<path class="hd" d="M 175.9,221.8 L 176.7,205.1 L 193.4,198.4 L 230.1,191.7"/>
<path class="hd" d="M 200.1,200.1 L 200.1,233.4"/>
<path class="hd" d="M 203.4,205.1 L 231.8,203.4"/>
<path class="hd" d="M 203.4,215.1 L 232.6,214.2"/>
<path class="hd" d="M 203.4,225.1 L 233.5,224.3"/>
<path class="hd" d="M 216.8,191.7 L 216.8,233.4"/>
<path class="hd" d="M 140.0,233.4 L 153.4,220.1 L 165.1,216.7 L 165.1,228.4"/>
<path class="hd" d="M 150.0,243.4 L 156.7,228.4"/>
<path class="hd" d="M 230.1,180.0 L 234.3,220.1"/>
<path class="hd" d="M 203.4,200.1 L 232.6,198.7"/>
<path class="hd" d="M 203.4,210.1 L 232.6,208.7"/>
<path class="hd" d="M 203.4,220.1 L 233.5,219.2"/>
<path class="hd" d="M 203.4,230.1 L 234.3,229.4"/>
<path class="hd" d="M 210.1,193.4 L 210.1,233.4"/>
<path class="hd" d="M 223.5,190.0 L 224.3,235.1"/>
<path class="hd" d="M 206.8,207.6 L 213.5,207.6 L 213.5,212.6 L 206.8,212.6 Z"/>
<path class="hd" d="M 218.5,216.7 L 226.8,216.7 L 226.8,222.6 L 218.5,222.6 Z"/>
<path class="hd" d="M 183.4,203.4 L 196.8,200.1 L 196.8,223.4 L 188.4,226.8"/>
<path class="hd" d="M 180.1,210.1 L 193.4,207.6"/>
<path class="hd" d="M 181.8,216.7 L 195.1,214.2"/>
<path class="hd" d="M 126.7,218.4 L 153.4,208.4 L 176.7,200.1"/>
<path class="hd" d="M 120.0,225.1 L 135.0,223.4 L 140.0,228.4"/>
<path class="hd" d="M 143.4,221.8 L 160.1,216.7 L 163.4,223.4 L 153.4,228.4"/>
<path class="hd" d="M 110.0,228.4 L 123.3,230.1 L 124.2,243.4"/>
<path class="hd" d="M 113.3,233.4 L 121.7,234.3"/>
<path class="hd" d="M 168.4,200.1 L 173.4,213.4 L 175.9,221.8"/>
<path class="hd" d="M 160.1,206.7 L 166.7,220.1"/>
<path class="hd" d="M 226.8,183.4 L 229.3,200.1 L 230.1,233.4"/>
<path class="hd" d="M 193.4,190.0 L 194.3,200.1"/>
<path class="hd" d="M 213.5,185.9 L 233.5,187.5"/>
<circle class="kb" cx="180.1" cy="200.1" r="0.37"/>
<circle class="kb" cx="190.1" cy="196.7" r="0.37"/>
<circle class="kb" cx="210.1" cy="188.4" r="0.37"/>
<circle class="kb" cx="223.5" cy="185.9" r="0.37"/>
<circle class="kb" cx="160.1" cy="210.1" r="0.37"/>
<circle class="kb" cx="146.7" cy="216.7" r="0.37"/>
<circle class="kb" cx="131.7" cy="223.4" r="0.37"/>
<circle class="kb" cx="210.1" cy="210.1" r="0.37"/>
<circle class="kb" cx="223.5" cy="220.1" r="0.37"/>
<circle class="kb" cx="210.1" cy="228.4" r="0.37"/>
<circle class="kb" cx="73.4" cy="208.4" r="0.37"/>
<circle class="kb" cx="83.4" cy="213.4" r="0.37"/>
<circle class="kb" cx="95.1" cy="216.8" r="0.37"/>
<circle class="kb" cx="111.8" cy="230.1" r="0.37"/>
<circle class="kb" cx="60.0" cy="208.4" r="0.37"/>
<circle class="kb" cx="130.1" cy="223.4" r="0.37"/>
<circle class="kb" cx="148.5" cy="213.4" r="0.37"/>
<circle class="kb" cx="166.8" cy="201.8" r="0.37"/>
<text x="663.3" y="40.6" font-size="15.2" textLength="162.6" lengthAdjust="spacingAndGlyphs" xml:space="preserve">1Y12−307  07/29/2022</text>
<text class="lb" x="615.6" y="228.3" >1</text>
<text class="lb" x="749.3" y="265.7" >2</text>
<text class="lb" x="590" y="334" >3</text>
<text class="lb" x="592.9" y="374.3" >6</text>
<text class="lb" x="691.5" y="371.7" >7</text>
<text class="lb" x="769.3" y="421.7" >8</text>
<text class="lb" x="652.7" y="454" >21</text>
<text class="lb" x="690.4" y="445.7" >22</text>
<text class="lb" x="729.3" y="437.3" >23</text>
<text class="lb" x="803.3" y="456.7" >9</text>
<text class="lb" x="621" y="506.7" >24</text>
<text class="lb" x="663.3" y="510.7" >25</text>
<text class="lb" x="340" y="411.5" >19</text>
<text class="lb" x="241" y="480" >18</text>
<text class="lb" x="473.8" y="497.2" >20</text>
<text class="lb" x="531" y="407" >4</text>
<text class="lb" x="507.5" y="440" >5</text>
<text class="lb" x="137.2" y="545.4" >17</text>
<text class="lb" x="406" y="559.5" >10</text>
<text class="lb" x="252" y="600" >12</text>
<text class="lb" x="315.8" y="598.8" >11</text>
<text class="lb" x="29.3" y="722" >16</text>
<text class="lb" x="77.3" y="751.2" >14</text>
<text class="lb" x="382.5" y="748.9" >13</text>
<text class="lb" x="213.2" y="851.6" >15</text>
<text class="lb" x="456.3" y="739.2" >26</text>
<text class="lb" x="696" y="723.3" >4</text>
<rect x="24.75" y="908.85" width="21.7" height="22.1" rx="3.2" fill="#fff" stroke="#000" stroke-width="1.6"/>
<text x="29.3" y="923.9" font-size="13.2" textLength="11.7" lengthAdjust="spacingAndGlyphs">tw</text>
<rect x="804.4" y="908.85" width="21.6" height="22.1" rx="3.2" fill="#fff" stroke="#000" stroke-width="1.6"/>
<text x="807.6" y="922.3" font-size="14.2" textLength="14.8" lengthAdjust="spacingAndGlyphs">gm</text>
<rect x="814.2" y="924.3" width="8.2" height="1.4" fill="#000"/>
<path class="t" d="M 308.2,236.3 L 319.3,218.2 L 329.2,222.7 L 318.5,241.6 Z"/>
<path class="t" d="M 329.2,222.7 L 341.1,217.3 L 348.5,213.2 L 358.8,218.3 L 356.8,221.0"/>
<path class="t" d="M 333.7,227.0 L 336.2,225.7"/>
<path class="t" d="M 341.1,217.3 L 349.4,221.0"/>
<path class="t" d="M 335.4,220.2 L 341.5,223.1"/>
<path class="t" d="M 342.4,216.5 L 352.6,221.0"/>
<path class="t" d="M 336.2,237.9 L 354.3,229.7 L 356.8,221.0"/>
<path class="g" d="M 334.5,219.8 L 341.1,222.4"/>
<path class="g" d="M 333.9,220.8 L 340.3,223.5"/>
<path class="g" d="M 342.8,217.7 L 350.2,221.0"/>
<path class="g" d="M 342.1,218.6 L 349.4,221.9"/>
<path class="kb" d="M 318.6,241.7 L 329.0,223.3 L 329.8,226.2 L 333.6,227.2 L 334.0,243.0 L 329.0,244.5 L 329.3,249.4 Z"/>
<text transform="matrix(1,-0.43,0,1,336.0,238.2)" font-size="13.2" x="0" y="0" textLength="23.3" lengthAdjust="spacingAndGlyphs">FRT</text>
<path class="t" d="M 523.2,753.8 L 534.3,735.7 L 544.2,740.2 L 533.5,759.1 Z"/>
<path class="t" d="M 544.2,740.2 L 556.1,734.8 L 563.5,730.7 L 573.8,735.8 L 571.8,738.5"/>
<path class="t" d="M 548.7,744.5 L 551.2,743.2"/>
<path class="t" d="M 556.1,734.8 L 564.4,738.5"/>
<path class="t" d="M 550.4,737.7 L 556.5,740.6"/>
<path class="t" d="M 557.4,734.0 L 567.6,738.5"/>
<path class="t" d="M 551.2,755.4 L 569.3,747.2 L 571.8,738.5"/>
<path class="g" d="M 549.5,737.3 L 556.1,739.9"/>
<path class="g" d="M 548.9,738.3 L 555.3,741.0"/>
<path class="g" d="M 557.8,735.2 L 565.2,738.5"/>
<path class="g" d="M 557.1,736.1 L 564.4,739.4"/>
<path class="kb" d="M 533.6,759.2 L 544.0,740.8 L 544.8,743.7 L 548.6,744.7 L 549.0,760.5 L 544.0,762.0 L 544.3,766.9 Z"/>
<text transform="matrix(1,-0.43,0,1,551.0,755.7)" font-size="13.2" x="0" y="0" textLength="23.3" lengthAdjust="spacingAndGlyphs">FRT</text>
<path class="dd" d="M 263.4,425.9 L 355.1,458.4"/>
<path class="dd" d="M 568.7,300.4 L 645.2,327.6"/>
<path class="dd" d="M 610.0,313.8 L 645.0,327.6"/>
<path class="t" d="M 328.4,474.8 L 355.1,464.3"/>
<path class="kw" d="M243.7,410.9 L253.3,406.7 L259.2,405.0 L261.7,405.4 L265.0,402.5 L269.2,401.7 L279.2,396.7 L295.1,388.7 L336.8,370.0 L400.0,335.4 L421.7,328.0 L432.5,327.0 L435.9,329.2 L439.2,330.0 L440.9,326.7 L493.4,302.5 L506.8,300.3 L523.5,300.8 L533.5,297.5 L538.5,292.5 L543.4,292.5 L553.4,295.0 L561.7,294.2 L571.7,290.0 L583.4,290.9 L596.8,284.7 L610.1,283.0 L611.0,308.4 L608.4,310.9 L603.4,310.0 L597.6,308.4 L593.4,314.2 L588.4,317.6 L580.1,320.1 L573.4,319.2 L560.1,315.1 L543.4,311.7 L531.7,309.2 L520.0,308.4 L510.0,311.7 L506.8,312.5 L480.1,324.2 L471.8,329.2 L465.9,336.4 L459.2,343.1 L400.0,368.8 L312.6,407.0 L310.1,404.2 L304.2,405.9 L302.6,410.0 L273.4,427.6 L254.7,436.4 L253.3,415.1 L246.7,413.7 Z"/>
<path class="k" d="M 440.9,327.0 L 458.4,331.0 L 473.4,323.4 L 503.5,310.9 L 526.8,304.7 L 533.5,298.0"/>
<path class="t" d="M253.3,415.1 L295.1,394.2 L341.8,370.0 L400.0,340.1 L431.7,329.5"/>
<path class="t" d="M255.9,413.7 L296.7,392.5 L340.1,370.3 L400.0,338.4 L430.9,328.0"/>
<path class="t" d="M 420.9,338.4 L 422.5,335.9 L 445.1,329.7 L 447.1,331.7 L 445.1,333.7 L 425.0,340.1 Q 421.4,341.1 420.9,338.4 Z"/>
<ellipse class="t" cx="262.5" cy="418.4" rx="1.17" ry="1.00" transform="rotate(-25 262.5 418.4)"/>
<ellipse class="t" cx="287.6" cy="405.4" rx="1.17" ry="1.00" transform="rotate(-25 287.6 405.4)"/>
<ellipse class="t" cx="296.7" cy="410.9" rx="1.17" ry="1.00" transform="rotate(-25 296.7 410.9)"/>
<ellipse class="t" cx="348.5" cy="378.3" rx="1.17" ry="1.00" transform="rotate(-25 348.5 378.3)"/>
<ellipse class="t" cx="346.8" cy="389.2" rx="1.17" ry="1.00" transform="rotate(-25 346.8 389.2)"/>
<ellipse class="t" cx="370.2" cy="370.8" rx="1.17" ry="1.00" transform="rotate(-25 370.2 370.8)"/>
<ellipse class="t" cx="272.5" cy="424.2" rx="1.17" ry="1.67" transform="rotate(20 272.5 424.2)"/>
<ellipse class="kb" cx="296.7" cy="391.7" rx="1.00" ry="0.83" transform="rotate(0 296.7 391.7)"/>
<ellipse class="t" cx="409.2" cy="336.4" rx="1.33" ry="1.00" transform="rotate(-25 409.2 336.4)"/>
<ellipse class="t" cx="416.7" cy="349.2" rx="1.33" ry="1.00" transform="rotate(-25 416.7 349.2)"/>
<ellipse class="t" cx="432.5" cy="343.1" rx="1.33" ry="1.00" transform="rotate(-25 432.5 343.1)"/>
<ellipse class="t" cx="447.2" cy="338.1" rx="1.33" ry="1.00" transform="rotate(-25 447.2 338.1)"/>
<ellipse class="t" cx="462.2" cy="320.9" rx="1.33" ry="1.00" transform="rotate(-25 462.2 320.9)"/>
<ellipse class="t" cx="492.6" cy="306.7" rx="1.33" ry="1.00" transform="rotate(-25 492.6 306.7)"/>
<ellipse class="t" cx="504.3" cy="303.7" rx="1.33" ry="1.00" transform="rotate(-25 504.3 303.7)"/>
<ellipse class="t" cx="513.5" cy="301.7" rx="1.33" ry="1.00" transform="rotate(-25 513.5 301.7)"/>
<path class="k" d="M 596.8,284.7 L 597.6,308.4 L 603.4,310.0"/>
<path class="k" d="M 600.9,285.9 L 601.8,309.4"/>
<ellipse class="t" cx="589.3" cy="293.0" rx="1.50" ry="2.34" transform="rotate(-15 589.3 293.0)"/>
<ellipse class="t" cx="605.4" cy="297.5" rx="0.83" ry="1.33" transform="rotate(0 605.4 297.5)"/>
<ellipse class="t" cx="587.1" cy="313.7" rx="1.50" ry="2.17" transform="rotate(-20 587.1 313.7)"/>
<path class="t" d="M 531.7,302.5 L 543.4,303.4"/>
<path class="t" d="M 528.4,305.9 L 540.0,307.5"/>
<path class="t" d="M 543.4,309.2 L 555.1,310.0 L 565.1,307.5"/>
<path class="t" d="M 556.7,302.5 L 563.4,307.5 L 576.7,310.0"/>
<path class="t" d="M 581.8,300.0 L 590.1,301.7"/>
<path class="t" d="M 583.4,303.4 L 593.4,302.5"/>
<path class="t" d="M 555.1,295.0 L 554.2,303.4"/>
<path class="t" d="M 535.0,300.0 L 550.0,305.0"/>
<path class="t" d="M 565.1,305.9 L 580.1,308.0"/>
<path class="t" d="M 568.4,299.2 L 567.6,302.0 L 570.1,302.9"/>
<path class="t" d="M 581.8,309.2 L 583.4,313.7"/>
<path class="t" d="M 576.7,296.7 L 588.4,299.2"/>
<path class="t" d="M 585.9,300.9 L 593.4,305.9"/>
<path class="t" d="M 510.0,308.4 L 520.0,305.9 L 531.7,305.9"/>
<path class="t" d="M 568.7,299.4 L 596.8,310.0"/>
<path class="t" d="M 568.4,301.7 L 594.3,311.7"/>
<path class="kw" d="M338.4,445.9 L343.5,443.4 L356.8,436.7 L360.1,431.7 L366.8,427.6 L373.5,427.6 L382.0,428.7 L400.0,422.7 L486.8,380.1 L500.1,373.4 L515.1,367.6 L520.0,365.1 L531.7,364.3 L543.4,367.6 L549.2,371.0 L551.7,370.1 L553.4,367.6 L593.4,350.1 L616.8,340.9 L626.8,337.6 L636.8,331.7 L646.8,330.1 L652.0,327.6 L647.5,329.6 L648.8,326.3 L663.8,321.3 L671.3,321.3 L677.6,326.3 L682.6,328.1 L692.6,324.6 L710.1,320.1 L715.1,321.3 L726.4,311.3 L730.2,312.6 L732.7,317.6 L728.9,327.6 L735.2,335.1 L733.9,340.1 L730.2,341.4 L723.9,337.6 L715.1,346.4 L707.6,347.6 L697.6,350.1 L687.6,355.1 L677.6,358.9 L667.6,356.4 L657.6,351.4 L642.5,347.6 L625.0,346.4 L610.0,351.4 L603.4,353.4 L585.1,363.4 L568.4,372.1 L560.1,376.8 L510.0,401.8 L412.5,443.2 L405.0,446.0 L382.0,460.9 L373.5,465.9 L371.8,468.4 L356.8,474.8 L354.3,473.5 L353.5,467.6 L355.1,465.1 L355.1,453.4 L354.3,451.8 L341.8,448.4 Z"/>
<path class="k" d="M355.1,453.4 L382.0,443.4 L412.5,440.7 L542.0,383.9"/>
<path class="t" d="M355.1,465.1 L382.0,455.1 L400.0,447.7 L405.0,446.0"/>
<path class="t" d="M356.8,456.8 L382.0,448.1"/>
<path class="t" d="M 400.0,428.5 L 445.1,409.8 L 506.8,380.9 L 542.0,368.4"/>
<path class="t" d="M 400.0,431.8 L 443.4,413.5"/>
<path d="M412.5,442.0 L566.9,374.3" stroke="#000" stroke-width="2.2" stroke-dasharray="0.5 0.9" fill="none"/>
<path class="t" d="M 444.2,410.1 L 447.6,428.5"/>
<path class="t" d="M 450.1,414.3 L 453.4,423.5"/>
<path class="t" d="M 444.2,410.1 L 450.1,414.3"/>
<path class="t" d="M 475.9,396.0 L 495.1,388.4"/>
<path class="t" d="M 476.8,397.6 L 495.9,390.1"/>
<path class="t" d="M 500.1,388.4 L 515.1,382.6"/>
<path class="t" d="M 440.0,406.8 L 453.4,401.0"/>
<path class="t" d="M 479.3,399.3 L 478.4,401.8 L 480.1,405.1"/>
<path class="t" d="M 516.0,383.4 L 516.8,386.8 L 517.6,389.3"/>
<ellipse class="t" cx="414.2" cy="425.5" rx="1.33" ry="1.00" transform="rotate(-25 414.2 425.5)"/>
<ellipse class="t" cx="430.0" cy="417.6" rx="1.33" ry="1.00" transform="rotate(-25 430.0 417.6)"/>
<ellipse class="t" cx="452.1" cy="406.8" rx="1.33" ry="1.00" transform="rotate(-25 452.1 406.8)"/>
<ellipse class="t" cx="469.2" cy="399.3" rx="1.33" ry="1.00" transform="rotate(-25 469.2 399.3)"/>
<ellipse class="t" cx="485.4" cy="385.1" rx="1.33" ry="1.00" transform="rotate(-25 485.4 385.1)"/>
<ellipse class="t" cx="494.3" cy="387.6" rx="1.33" ry="1.00" transform="rotate(-25 494.3 387.6)"/>
<ellipse class="t" cx="528.1" cy="372.6" rx="1.33" ry="1.00" transform="rotate(-25 528.1 372.6)"/>
<ellipse class="t" cx="529.3" cy="380.1" rx="1.33" ry="1.00" transform="rotate(-25 529.3 380.1)"/>
<ellipse class="kb" cx="430.0" cy="417.6" rx="1.00" ry="0.83" transform="rotate(0 430.0 417.6)"/>
<ellipse class="kb" cx="528.1" cy="372.6" rx="1.00" ry="0.83" transform="rotate(0 528.1 372.6)"/>
<ellipse class="t" cx="343.5" cy="446.8" rx="2.00" ry="1.17" transform="rotate(-20 343.5 446.8)"/>
<ellipse class="t" cx="366.8" cy="457.1" rx="1.33" ry="1.67" transform="rotate(10 366.8 457.1)"/>
<ellipse class="t" cx="372.7" cy="462.6" rx="1.67" ry="1.50" transform="rotate(0 372.7 462.6)"/>
<path class="t" d="M 360.1,431.7 L 363.5,436.7 L 373.5,434.2"/>
<path class="t" d="M 356.8,436.7 L 355.1,453.4"/>
<path class="t" d="M 362.6,448.1 L 367.6,446.4"/>
<path class="t" d="M 363.5,440.1 L 371.8,438.4"/>
<path class="k" d="M 553.4,367.6 L 560.1,370.5 L 570.1,368.4 L 600.1,353.8 L 610.1,348.4 L 626.8,338.4"/>
<path class="t" d="M 560.1,367.1 L 596.8,351.1"/>
<path class="t" d="M 563.4,368.1 L 598.4,352.9"/>
<path class="t" d="M 510.0,379.3 L 543.4,372.1"/>
<path class="t" d="M 515.0,383.5 L 516.7,389.3"/>
<path class="t" d="M 585.1,362.6 L 596.8,356.8"/>
<ellipse class="kb" cx="528.4" cy="371.8" rx="1.17" ry="0.83" transform="rotate(0 528.4 371.8)"/>
<ellipse class="t" cx="530.0" cy="380.1" rx="1.50" ry="1.00" transform="rotate(-20 530.0 380.1)"/>
<path class="t" d="M 647.5,329.6 L 653.8,332.6 L 677.6,326.3"/>
<path class="t" d="M 653.8,332.6 L 655.1,342.6 L 678.8,357.6"/>
<path class="t" d="M 633.8,333.1 L 652.6,343.9"/>
<path class="t" d="M 695.1,325.6 L 696.4,348.9"/>
<path class="t" d="M 701.4,323.8 L 702.6,347.6"/>
<path class="t" d="M 710.1,321.3 L 711.4,345.1"/>
<path class="t" d="M 715.1,321.3 L 720.1,335.1 L 715.1,346.4"/>
<path class="t" d="M 720.1,335.1 L 728.9,327.6"/>
<path class="t" d="M 668.8,337.1 L 675.6,340.6"/>
<path class="t" d="M 672.6,338.8 L 670.8,342.6"/>
<path class="t" d="M 610.0,345.1 L 635.0,335.1"/>
<path class="t" d="M 703.9,335.1 L 708.9,332.6 L 710.1,337.6"/>
<path class="t" d="M 705.1,340.1 L 712.6,336.3"/>
<ellipse class="t" cx="653.8" cy="328.1" rx="2.00" ry="1.25" transform="rotate(-15 653.8 328.1)"/>
<ellipse class="t" cx="667.1" cy="324.6" rx="2.00" ry="1.25" transform="rotate(-15 667.1 324.6)"/>
<ellipse class="kb" cx="690.1" cy="331.3" rx="1.50" ry="1.50" transform="rotate(0 690.1 331.3)"/>
<ellipse class="t" cx="687.6" cy="351.4" rx="1.25" ry="1.75" transform="rotate(0 687.6 351.4)"/>
<ellipse class="t" cx="726.4" cy="315.6" rx="1.25" ry="1.75" transform="rotate(-30 726.4 315.6)"/>
<ellipse class="t" cx="730.9" cy="337.1" rx="1.25" ry="1.75" transform="rotate(-30 730.9 337.1)"/>
<ellipse class="t" cx="695.1" cy="341.4" rx="3.00" ry="4.01" transform="rotate(-20 695.1 341.4)"/>
<ellipse class="t" cx="721.4" cy="325.6" rx="1.00" ry="1.00" transform="rotate(0 721.4 325.6)"/>
<path class="kw" d="M498.4,348.4 L508.5,344.2 L531.8,333.7 L533.4,332.6 L540.0,330.9 L544.2,334.2 L547.0,338.4 L546.4,343.4 L541.7,345.9 L540.9,348.4 L545.0,351.8 L544.2,353.4 L536.7,354.3 L535.0,357.6 L520.0,352.6 L515.1,354.2 L511.0,356.7 L509.3,360.9 L505.5,360.1 L504.3,355.9 L500.1,352.1 Z"/>
<path class="t" d="M500.1,350.9 L508.5,347.6 L510.0,350.1 L520.0,345.1 L533.4,332.6"/>
<path class="t" d="M 520.0,345.1 L 525.0,350.1 L 541.7,345.9"/>
<path class="t" d="M 525.0,350.1 L 535.0,357.1"/>
<path class="t" d="M 541.7,348.4 L 545.0,353.4"/>
<ellipse class="t" cx="521.3" cy="341.4" rx="0.83" ry="0.67" transform="rotate(0 521.3 341.4)"/>
<ellipse class="kb" cx="530.0" cy="348.4" rx="0.83" ry="0.67" transform="rotate(0 530.0 348.4)"/>
<ellipse class="kb" cx="535.0" cy="351.8" rx="0.83" ry="0.67" transform="rotate(0 535.0 351.8)"/>
<path class="ld" d="M 547.5,337.6 L 588.4,329.2"/>
<path class="t" d="M 515.1,358.4 L 497.6,391.8"/>
<path class="kw" d="M 383.2,392.6 L 405.2,384.6 L 412.7,384.6 L 415.2,388.9 L 415.2,397.6 L 424.0,401.4 L 420.2,405.6 L 412.7,407.6 L 402.7,411.4 L 395.2,410.2 L 390.2,405.1 L 388.9,396.4 Z"/>
<path class="t" d="M 405.2,384.6 L 400.2,388.9 L 390.2,396.4"/>
<path class="t" d="M 400.2,388.9 L 401.5,400.1 L 415.2,397.6"/>
<path class="t" d="M 404.0,401.4 L 420.2,405.1"/>
<path class="t" d="M 390.2,405.1 L 400.2,403.9"/>
<circle class="t" cx="401.5" cy="397.6" r="2.00"/>
<ellipse class="kb" cx="412.7" cy="402.6" rx="1.25" ry="1.00" transform="rotate(0 412.7 402.6)"/>
<ellipse class="kb" cx="407.2" cy="400.1" rx="1.00" ry="0.75" transform="rotate(0 407.2 400.1)"/>
<path class="ld" d="M 361.4,405.1 L 388.9,403.9"/>
<path class="t" d="M 389.4,412.7 L 370.2,447.7"/>
<path class="kw" d="M 301.7,458.4 L 306.7,456.8 L 311.8,456.8 L 313.4,453.4 L 318.4,453.1 L 323.4,454.3 L 326.4,457.6 L 326.8,480.1 L 328.4,485.1 L 327.6,490.1 L 323.4,496.8 L 321.8,501.8 L 320.9,511.8 L 318.4,516.8 L 314.3,516.5 L 311.8,513.5 L 311.8,500.2 L 310.1,493.5 L 307.6,485.1 L 306.7,476.8 L 308.4,471.8 L 310.1,468.4 L 309.7,462.6 L 303.4,461.8 Z"/>
<path class="t" d="M 309.7,462.6 L 314.3,460.9 L 323.4,454.3"/>
<path class="t" d="M 314.3,460.9 L 315.1,471.8"/>
<path class="t" d="M 308.4,471.8 L 313.4,472.6 L 318.4,476.8 L 319.3,486.8 L 318.4,503.5 L 320.9,511.8"/>
<path class="t" d="M 319.3,483.5 L 326.8,481.0"/>
<path class="k" d="M 311.8,500.2 L 313.4,498.5 L 314.3,516.5"/>
<path class="k" d="M 308.4,472.1 L 313.4,473.1 L 318.1,477.1"/>
<ellipse class="t" cx="318.4" cy="471.0" rx="1.84" ry="2.17" transform="rotate(20 318.4 471.0)"/>
<path class="ld" d="M 260.9,475.5 L 307.6,476.0"/>
<path class="t" d="M 306.7,501.0 L 316.8,496.8"/>
<path class="t" d="M 306.7,501.0 L 306.7,516.8"/>
<path class="dd" d="M 306.7,516.8 L 306.7,536.9"/>
<path class="dd" d="M306.7,520 L306.7,640"/>
<path class="ld" d="M620,231 L610,283"/>
<path class="ld" d="M 748.9,268.8 L 727.6,311.3"/>
<path class="dd" d="M 563.9,410.0 L 563.9,630.3"/>
<path class="t" d="M 625.9,420.0 L 626.8,461.4"/>
<path d="M 626.8,461.4 L 555.4,490.6" fill="none" stroke="#000" stroke-width="0.6" stroke-dasharray="28 6"/>
<path class="t" d="M 555.4,490.6 L 555.4,523.5"/>
<path class="t" d="M 645.1,437.6 L 630.9,445.9 L 678.5,548.5"/>
<ellipse class="kb" cx="564.2" cy="396.7" rx="3.67" ry="2.00" transform="rotate(0 564.2 396.7)"/>
<path class="kb" d="M 562.7,398.0 L 565.7,398.0 L 565.4,404.2 L 564.2,406.4 L 563.0,404.2 Z"/>
<path class="ld" d="M 541.7,400.9 L 560.4,400.9"/>
<circle class="kb" cx="589.2" cy="398.4" r="2.50"/>
<circle class="kw" cx="589.2" cy="398.4" r="1.00"/>
<path class="ld" d="M 593.7,380.0 L 589.7,395.4"/>
<path class="t" d="M 591.7,400.9 L 597.6,405.0"/>
<path class="t" d="M 602.6,409.2 L 617.6,420.0"/>
<path class="kw" d="M 581.7,415.9 L 597.6,406.7 Q 602.6,403.4 606.7,406.7 L 610.9,410.9 L 611.4,427.6 Q 610.1,430.4 606.7,432.1 L 591.7,439.2 Q 585.9,441.7 580.9,439.2 L 556.7,428.7 L 555.9,427.6 L 557.5,426.7 L 580.0,436.4 L 578.7,424.2 L 581.7,421.7 Z"/>
<path class="t" d="M 581.7,415.9 L 585.1,418.0 L 585.9,438.1"/>
<path class="t" d="M 578.4,424.7 L 580.9,423.7 L 581.7,421.7"/>
<path class="t" d="M 578.7,416.4 Q 580.0,413.9 581.7,415.4"/>
<path class="ld" d="M 566.7,423.7 L 579.2,418.0"/>
<path d="M556.7,427.9 L580.4,437.9" stroke="#000" stroke-width="2.0" stroke-dasharray="0.6 0.7" fill="none"/>
<ellipse class="t" cx="587.6" cy="415.9" rx="1.33" ry="1.67" transform="rotate(0 587.6 415.9)"/>
<circle class="t" cx="593.4" cy="421.7" r="1.50"/>
<circle class="kb" cx="593.4" cy="421.7" r="0.67"/>
<circle class="t" cx="593.7" cy="433.4" r="1.67"/>
<circle class="t" cx="593.7" cy="433.4" r="0.67"/>
<circle class="kb" cx="575.9" cy="430.1" r="0.42"/>
<circle class="kb" cx="570.9" cy="429.2" r="0.42"/>
<path class="ld" d="M 517.5,432.1 L 555.9,428.1"/>
<path class="kw" d="M 615.5,404.7 L 622.2,401.0 L 627.7,396.7 L 666.8,375.6 L 669.9,375.9 L 697.4,383.9 L 704.1,398.6 L 707.8,404.7 L 706.5,408.3 L 698.0,412.0 L 695.5,416.9 L 655.2,429.1 L 645.4,433.4 L 643.0,432.5 L 641.2,429.1 L 638.1,425.4 L 627.1,416.3 L 622.2,410.8 L 616.7,408.9 Z"/>
<path class="k" d="M 627.7,396.7 L 631.4,399.2 L 639.1,416.9 L 685.2,393.4 L 697.4,383.9"/>
<path class="k" d="M 639.1,416.9 L 643.2,432.5"/>
<path class="k" d="M 685.2,393.4 L 688.2,398.6 L 695.5,416.6"/>
<path class="k" d="M 627.7,396.7 L 666.8,375.6"/>
<path class="ld" d="M 644.5,433.3 L 655.2,429.3 L 695.5,417.1"/>
<path class="k" d="M 645.2,434.0 L 655.5,430.1 L 695.8,417.9"/>
<path class="t" d="M 646.7,412.6 L 652.2,429.7"/>
<path class="t" d="M 649.7,411.4 L 655.2,428.7"/>
<path class="t" d="M 687.0,396.7 L 694.3,415.7"/>
<path class="t" d="M 617.3,405.9 L 629.6,407.1 L 638.7,416.9"/>
<path class="t" d="M 622.2,401.0 L 624.7,406.9"/>
<path class="t" d="M 630.2,397.9 L 667.4,377.8 L 694.3,385.1"/>
<path class="t" d="M 616.7,408.9 L 627.1,411.4 L 638.1,425.4"/>
<path class="t" d="M 615.5,404.7 L 619.2,405.6"/>
<path class="t" d="M 631.4,399.2 L 634.4,408.3 L 641.2,419.3"/>
<ellipse class="k" cx="657.9" cy="395.1" rx="26.15" ry="14.66" transform="rotate(-15 657.9 395.1)"/>
<ellipse class="t" cx="658.4" cy="396.1" rx="23.95" ry="12.71" transform="rotate(-15 658.4 396.1)"/>
<ellipse class="kw" cx="657.4" cy="397.9" rx="11.37" ry="6.11" transform="rotate(-4 657.4 397.9)"/>
<path class="t" d="M 641.2,389.4 L 646.7,395.5"/>
<path class="t" d="M 654.0,382.7 L 655.8,392.2"/>
<path class="t" d="M 669.9,378.4 L 663.8,393.1"/>
<path class="t" d="M 682.7,387.6 L 668.4,396.4"/>
<path class="t" d="M 682.1,397.9 L 667.7,400.8"/>
<path class="t" d="M 664.4,408.9 L 661.3,403.7"/>
<path class="t" d="M 646.7,409.5 L 650.3,402.8"/>
<path class="t" d="M 633.2,403.4 L 646.4,399.5"/>
<path class="t" d="M 643.0,388.8 L 654.0,383.3"/>
<path class="t" d="M 656.4,381.4 L 658.9,384.5 L 667.4,380.2"/>
<path class="t" d="M 671.1,380.2 L 678.4,383.9 L 683.3,387.6"/>
<path class="t" d="M 684.5,392.4 L 678.4,398.6"/>
<path class="t" d="M 634.4,404.7 L 640.6,414.4"/>
<path class="t" d="M 654.0,383.3 L 657.0,380.2 L 669.9,377.8"/>
<circle class="t" cx="646.1" cy="428.5" r="1.71"/>
<circle class="t" cx="646.1" cy="428.5" r="0.73"/>
<circle class="t" cx="685.5" cy="385.1" r="0.61"/>
<ellipse class="t" cx="699.8" cy="404.4" rx="1.71" ry="0.98" transform="rotate(-30 699.8 404.4)"/>
<path class="t" d="M 701.0,403.7 L 711.4,397.3"/>
<circle class="t" cx="624.7" cy="406.9" r="0.73"/>
<circle class="t" cx="628.3" cy="408.3" r="0.73"/>
<ellipse class="kb" cx="623.7" cy="376.3" rx="4.28" ry="3.18" transform="rotate(0 623.7 376.3)"/>
<ellipse class="kw" cx="623.7" cy="375.1" rx="1.96" ry="0.98" transform="rotate(0 623.7 375.1)"/>
<path class="kw" d="M 622.0,378.4 L 626.5,378.4 L 626.3,389.4 L 624.9,390.6 L 622.7,389.4 Z"/>
<path class="k" d="M 622.2,380.2 L 626.4,381.0"/>
<path class="k" d="M 622.2,382.4 L 626.4,383.2"/>
<path class="k" d="M 622.3,384.6 L 626.4,385.4"/>
<path class="k" d="M 622.3,386.8 L 626.3,387.6"/>
<path class="k" d="M 622.5,388.8 L 626.1,389.5"/>
<path class="t" d="M 625.3,390.6 L 625.3,404.7"/>
<path class="t" d="M626.1,419.3 L626.1,425.3"/>
<circle class="kb" cx="720.1" cy="391.3" r="3.10"/>
<circle class="kw" cx="720.8" cy="390.7" r="1.13"/>
<ellipse class="kb" cx="715.2" cy="395.5" rx="2.54" ry="1.41" transform="rotate(-30 715.2 395.5)"/>
<path class="ld" d="M 628.4,375.8 L 687.0,365.4"/>
<path class="ld" d="M 702.2,369.6 L 718.0,387.5"/>
<path class="ld" d="M 708.1,407.2 L 768.0,415.0"/>
<path class="kw" d="M671.7,478.4 L673.4,476.1 L685.1,474.7 L773.5,467.5 L776.9,470.0 L781.2,475.0 L781.2,485.5 L778.2,487.5 L720.1,491.4 L673.4,495.9 L671.7,494.2 Z"/>
<path class="t" d="M673.4,480.1 L775.2,471.7 L779.4,473.0"/>
<path class="t" d="M673.9,481.7 L776.0,473.4 L780.2,476.0"/>
<path class="t" d="M 671.7,478.4 L 674.2,480.1 L 674.2,495.1"/>
<path class="ld" d="M 675.0,494.4 L 713.4,491.7"/>
<path class="ld" d="M720.4,491.1 L778.2,487.0"/>
<path class="t" d="M 717.1,488.4 L 718.4,509.3"/>
<path class="kb" d="M 656.7,478.1 L 659.7,477.2 L 660.0,493.1 L 666.7,492.4 L 666.7,496.1 L 659.2,497.6 L 656.7,496.7 Z"/>
<path class="k" d="M 659.7,477.2 L 661.4,476.4 L 668.0,477.6 L 668.0,480.1 L 663.7,480.9 L 665.0,485.1 L 661.7,485.9 L 660.7,480.1"/>
<path class="t" d="M 661.4,478.4 L 666.7,478.7"/>
<circle class="kb" cx="722.1" cy="463.0" r="3.17"/>
<ellipse class="kw" cx="722.1" cy="463.4" rx="1.67" ry="0.83" transform="rotate(0 722.1 463.4)"/>
<path class="t" d="M 722.6,466.4 L 722.9,470.9"/>
<path class="ld" d="M 707.6,449.7 L 719.8,460.9"/>
<circle class="kb" cx="746.8" cy="460.9" r="2.50"/>
<path class="t" d="M 748.1,463.4 L 748.5,469.2"/>
<path class="ld" d="M 741.0,442.0 L 746.0,458.4"/>
<circle class="kb" cx="693.4" cy="501.4" r="2.34"/>
<circle class="kw" cx="693.4" cy="501.4" r="1.00"/>
<path class="t" d="M 695.1,504.3 L 697.1,511.8"/>
<path class="ld" d="M 681.7,503.8 L 690.9,501.8"/>
<path class="ld" d="M 670.0,455.9 L 684.7,474.7"/>
<path class="ld" d="M 636.7,498.7 L 656.7,491.4"/>
<path class="t" d="M 564.3,481.7 L 564.3,569.3"/>
<path class="kw" d="M651.8,517.5 L651.8,522.5 L643.1,525.0 L632.1,530.0 L628.7,536.4 L618.7,546.7 L605.0,553.7 L597.0,549.2 L596.8,548.4 L556.8,570.9 L553.4,590.1 L554.3,590.0 L533.4,596.7 L539.2,602.5 L541.7,613.4 L540.9,625.1 L535.1,621.7 L497.5,637.6 L501.7,640.9 L490.0,685.1 L492.5,691.0 L507.5,696.0 L521.7,694.3 L535.1,690.1 L545.9,685.1 L555.1,670.1 L566.8,651.8 L580.1,634.2 L586.8,625.1 L586.8,623.4 L616.8,611.7 L615.9,613.5 L625.1,638.5 L638.4,644.3 L637.5,644.3 L653.4,641.8 L659.2,656.8 L678.4,663.5 L693.4,661.0 L703.5,666.8 L723.5,666.8 L738.5,661.0 L745.6,662.7 L758.2,667.7 L790.7,676.5 L793.2,677.8 L800.7,672.8 L822.0,664.0 L823.2,661.5 L812.0,655.2 L810.7,598.9 L798.2,602.7 L793.2,520.1 L780.7,513.8 L776.9,507.0 L768.2,509.5 L763.2,508.0 Z"/>
<path class="ld" d="M 653.0,517.6 L 763.2,508.0 L 768.2,509.5 L 785.7,523.8"/>
<path class="k" d="M 785.7,523.8 L 788.2,526.3 L 791.9,676.5"/>
<path class="k" d="M 798.2,602.7 L 800.7,671.5"/>
<path class="k" d="M 768.2,509.5 L 776.9,507.0"/>
<path class="k" d="M 653.0,517.6 L 653.5,525.6 L 668.0,523.8"/>
<path class="t" d="M 812.0,655.2 L 800.7,660.7"/>
<path class="t" d="M 810.7,598.9 L 800.7,603.9"/>
<path class="ld" d="M 776.9,507.0 L 780.7,513.8 L 793.2,520.1 L 798.2,602.7 L 810.7,598.9 L 812.0,655.2 L 823.2,661.5"/>
<path class="k" d="M 763.4,509.2 L 764.3,517.5"/>
<path class="k" d="M 656.6,528.4 L 764.3,517.5 L 785.1,526.7"/>
<path class="k" d="M 763.4,509.2 L 785.4,525.4"/>
<path class="k" d="M 661.6,538.0 L 740.1,530.4 L 770.1,527.7 L 783.4,526.4"/>
<path class="ld" d="M 708.4,534.5 L 770.1,528.5"/>
<path class="ld" d="M 702.5,547.1 L 773.4,540.2"/>
<path class="ld" d="M 698.3,556.4 L 740.1,554.6"/>
<path class="ld" d="M 697.5,566.4 L 738.4,565.4"/>
<path class="ld" d="M 696.7,582.9 L 738.4,581.8"/>
<path class="ld" d="M 696.7,610.1 L 725.9,608.5"/>
<path class="ld" d="M 697.5,636.0 L 740.1,635.5"/>
<path class="ld" d="M 703.3,638.8 L 740.1,636.3"/>
<path class="t" d="M 768.4,514.7 L 782.6,524.7"/>
<path class="t" d="M 770.9,513.7 L 784.3,523.4"/>
<path class="t" d="M 765.9,516.4 L 780.1,525.9"/>
<path class="t" d="M 660.0,535.9 L 708.4,531.7"/>
<path class="ld" d="M 710.0,534.2 L 703.3,545.1 L 698.3,561.7 L 695.8,575.1 L 695.8,633.5"/>
<path class="ld" d="M 749.2,530.9 L 743.4,545.1 L 740.9,555.1 L 742.1,666.9"/>
<path class="k" d="M 712.5,534.2 L 705.9,545.4"/>
<path class="k" d="M 751.7,530.9 L 745.9,545.1 L 743.4,555.1"/>
<path class="k" d="M 690.0,548.7 L 703.3,546.2 L 745.1,542.9 L 773.4,539.4 L 780.1,540.4"/>
<path class="k" d="M 743.4,550.4 L 763.4,547.9 L 780.9,554.6 L 776.8,556.2 L 743.4,553.7"/>
<path class="k" d="M 743.4,565.4 L 760.1,557.9 L 780.1,566.2 L 774.3,568.7 L 742.1,566.2"/>
<path class="k" d="M 742.1,582.1 L 763.4,576.3 L 780.9,582.9 L 742.1,582.9"/>
<path class="k" d="M 742.1,609.6 L 760.1,602.1 L 780.9,610.5 L 775.4,613.0 L 742.1,610.5"/>
<path class="k" d="M 742.7,637.2 L 761.8,629.7 L 781.8,638.0 L 776.1,640.5 L 742.7,638.0"/>
<path class="k" d="M 760.1,557.9 L 776.8,567.1"/>
<path class="k" d="M 760.1,602.1 L 775.9,611.5"/>
<path class="k" d="M 761.8,629.7 L 776.8,638.8"/>
<path class="k" d="M 700.0,550.4 L 728.4,548.7 L 740.1,555.1"/>
<path class="k" d="M 728.4,548.7 L 731.7,553.4"/>
<path class="t" d="M 757.6,566.7 L 758.4,600.1"/>
<path class="t" d="M 763.4,583.4 L 765.9,631.8"/>
<path class="t" d="M 765.1,566.7 L 764.3,578.4"/>
<path class="t" d="M 757.6,550.1 L 757.6,557.6"/>
<path class="t" d="M 766.8,613.5 L 767.6,630.2"/>
<path class="t" d="M 743.4,616.8 Q 746.7,626.8 756.7,620.1"/>
<path class="t" d="M 745.1,615.1 Q 747.6,623.5 755.9,617.6"/>
<path class="t" d="M 715.0,557.6 Q 723.4,555.1 733.4,563.4"/>
<path class="t" d="M 711.7,558.4 L 713.4,564.2"/>
<path class="t" d="M 716.7,570.1 L 722.5,578.4"/>
<path class="t" d="M 718.4,569.2 L 724.2,577.6"/>
<path class="t" d="M 720.0,568.4 L 725.9,576.8"/>
<path class="t" d="M 731.7,596.8 L 732.5,606.8"/>
<path class="t" d="M 730.0,586.8 L 735.1,595.1"/>
<path class="t" d="M 723.4,606.8 L 730.0,610.1 L 732.5,609.3"/>
<circle class="kw" cx="773.4" cy="529.5" r="1.84"/>
<circle class="kw" cx="772.6" cy="539.5" r="1.50"/>
<circle class="kw" cx="774.3" cy="567.6" r="1.50"/>
<circle class="kw" cx="773.4" cy="611.5" r="1.50"/>
<circle class="kw" cx="774.3" cy="639.0" r="1.50"/>
<circle class="kw" cx="741.7" cy="555.9" r="1.33"/>
<circle class="kw" cx="740.9" cy="561.4" r="1.33"/>
<circle class="kw" cx="704.2" cy="545.4" r="1.33"/>
<circle class="kw" cx="692.5" cy="632.7" r="1.67"/>
<circle class="kw" cx="761.8" cy="599.6" r="1.33"/>
<circle class="kw" cx="762.6" cy="613.8" r="1.33"/>
<rect class="k" x="695.8" y="566.7" width="42.5" height="15.0" rx="3"/>
<rect class="k" x="695.8" y="583.4" width="42.5" height="25.9" rx="3"/>
<rect class="k" x="695.8" y="611.0" width="42.5" height="24.2" rx="3"/>
<rect class="tw" x="705.4" y="613.5" width="17.2" height="9.2"/>
<text x="708.7" y="629.8" font-size="6.8" font-weight="bold">L</text>
<circle class="t" cx="693.3" cy="541.7" r="1.17"/>
<circle class="t" cx="737.6" cy="538.4" r="1.17"/>
<circle class="t" cx="759.7" cy="535.9" r="1.17"/>
<circle class="t" cx="730.0" cy="525.0" r="1.17"/>
<circle class="t" cx="760.9" cy="521.7" r="1.17"/>
<circle class="t" cx="695.0" cy="528.4" r="1.17"/>
<circle class="t" cx="712.5" cy="530.9" r="1.17"/>
<circle class="t" cx="705.9" cy="585.9" r="1.17"/>
<circle class="t" cx="718.0" cy="587.6" r="1.17"/>
<circle class="t" cx="752.6" cy="641.0" r="1.17"/>
<circle class="t" cx="760.9" cy="641.0" r="1.17"/>
<circle class="t" cx="722.5" cy="641.0" r="1.17"/>
<circle class="t" cx="783.4" cy="633.5" r="1.17"/>
<circle class="t" cx="784.3" cy="650.2" r="1.17"/>
<circle class="t" cx="809.3" cy="621.0" r="1.17"/>
<circle class="t" cx="806.8" cy="652.7" r="1.17"/>
<circle class="t" cx="680.0" cy="530.0" r="1.17"/>
<circle class="t" cx="670.0" cy="541.7" r="1.17"/>
<path class="t" d="M 748.4,648.5 L 760.1,647.7 L 760.4,654.3 L 748.7,655.2 Z"/>
<path class="ld" d="M 703.3,638.8 L 718.4,656.8"/>
<path class="ld" d="M 706.7,637.7 L 722.5,656.0"/>
<circle class="kw" cx="720.4" cy="657.2" r="2.00"/>
<path class="k" d="M 700.6,662.7 L 741.1,660.2 L 758.2,667.7"/>
<path class="k" d="M 788.2,642.7 L 741.1,660.2"/>
<circle class="t" cx="783.2" cy="667.7" r="1.00"/>
<circle class="t" cx="798.2" cy="664.0" r="1.00"/>
<circle class="t" cx="807.0" cy="651.5" r="1.00"/>
<circle class="t" cx="809.5" cy="621.4" r="1.00"/>
<path class="k" d="M 632.1,530.0 L 658.4,540.1 L 663.4,549.2 L 673.4,540.1 L 670.1,531.7"/>
<path class="k" d="M 658.4,540.1 L 658.4,525.0"/>
<path class="k" d="M 655.1,555.9 L 666.8,551.7"/>
<path class="k" d="M 655.1,555.9 L 655.9,568.4 L 650.1,591.8 L 659.3,590.1 L 660.9,570.1 L 660.1,563.4 L 666.8,560.1"/>
<path class="k" d="M 597.0,549.2 L 601.7,554.2 L 614.2,562.1 L 615.9,570.1 L 614.2,573.4"/>
<path class="ld" d="M 655.1,555.9 L 666.8,551.7"/>
<path class="ld" d="M 666.8,551.7 L 680.1,548.4 L 700.1,545.9"/>
<path class="ld" d="M 700.1,545.9 L 708.5,534.2"/>
<path class="t" d="M 665.9,537.6 L 670.1,536.7 L 670.4,540.9 L 666.4,541.7 Z"/>
<path class="t" d="M 667.6,538.4 L 669.3,538.4 L 668.4,540.4 Z"/>
<path class="t" d="M 615.9,605.1 Q 626.7,606.8 635.1,599.3"/>
<path class="t" d="M 617.5,606.8 Q 628.4,608.8 637.6,601.0"/>
<path class="t" d="M 620.0,548.4 L 630.1,540.1"/>
<path class="t" d="M 618.4,551.7 L 628.4,543.4"/>
<path class="t" d="M 656.8,563.4 L 666.8,556.7"/>
<path class="t" d="M 655.9,566.8 L 663.4,561.8"/>
<path class="t" d="M 683.5,550.1 L 688.5,555.1 L 693.5,553.4"/>
<path class="t" d="M 685.1,563.4 L 693.5,568.4"/>
<path class="t" d="M 686.8,570.1 L 696.8,565.1"/>
<path class="t" d="M 648.4,595.1 L 653.4,596.8"/>
<path class="t" d="M 670.9,585.1 L 671.4,587.6"/>
<path class="t" d="M 625.1,613.5 L 638.4,640.2"/>
<path class="t" d="M 628.4,611.8 L 641.7,636.8"/>
<path class="t" d="M 580.0,580.9 L 614.2,563.4"/>
<path class="t" d="M 580.0,576.8 L 611.7,560.1"/>
<path class="t" d="M 615.9,570.1 L 615.9,603.5"/>
<path class="t" d="M 666.8,560.1 Q 664.3,570.1 668.4,580.9 Q 676.8,583.4 681.8,573.4"/>
<path class="t" d="M 670.1,560.9 Q 667.6,570.1 671.4,579.3"/>
<path class="t" d="M 673.4,558.4 Q 683.5,560.1 684.3,570.1"/>
<path class="kw" d="M 675.1,565.9 L 680.1,565.1 L 680.5,573.4 L 675.4,574.3 Z"/>
<circle class="kb" cx="677.8" cy="569.8" r="1.00"/>
<circle class="kb" cx="655.9" cy="574.3" r="1.00"/>
<circle class="t" cx="661.8" cy="530.9" r="0.67"/>
<circle class="t" cx="694.0" cy="542.1" r="0.67"/>
<circle class="kb" cx="664.3" cy="546.7" r="0.50"/>
<path class="k" d="M 595.0,576.8 L 605.0,573.4 L 606.7,596.8 L 595.9,600.1 Z"/>
<path class="k" d="M 585.8,586.8 L 595.0,584.3 L 595.4,593.5 L 586.7,596.0 Z"/>
<path class="k" d="M 607.5,580.1 L 614.2,578.4 L 614.2,590.1 L 608.0,591.8 Z"/>
<path class="k" d="M 601.7,578.4 Q 598.4,586.8 603.4,595.1"/>
<path class="k" d="M 604.2,577.6 Q 600.9,586.8 605.9,594.3"/>
<circle class="kb" cx="590.8" cy="590.1" r="1.00"/>
<circle class="kb" cx="611.7" cy="585.4" r="1.00"/>
<circle class="kb" cx="611.7" cy="570.9" r="1.17"/>
<circle class="t" cx="598.4" cy="560.1" r="0.67"/>
<path class="k" d="M 556.8,570.9 L 580.1,580.1 L 612.0,563.4"/>
<path class="k" d="M 580.1,580.1 L 576.8,596.8"/>
<circle class="t" cx="571.0" cy="571.8" r="0.67"/>
<circle class="t" cx="573.5" cy="582.1" r="0.67"/>
<circle class="t" cx="576.8" cy="561.8" r="0.67"/>
<circle class="t" cx="598.5" cy="560.4" r="0.67"/>
<path class="k" d="M 554.3,590.0 L 576.8,595.9 L 580.1,580.0"/>
<path class="k" d="M 533.4,596.7 L 538.4,601.7 L 541.7,603.4 L 573.4,593.4 L 576.8,595.9"/>
<path class="ld" d="M 533.4,596.7 L 539.2,602.5 L 541.7,613.4 L 540.9,625.1 L 536.7,640.1 L 530.1,653.4 L 518.4,668.4 L 508.4,683.5 L 506.7,696.0"/>
<path class="ld" d="M 490.0,685.1 L 492.5,691.0 L 507.5,696.0 L 521.7,694.3 L 535.1,690.1 L 545.9,685.1 L 555.1,670.1 L 566.8,651.8 L 580.1,634.2 L 586.8,625.1"/>
<path class="k" d="M 497.5,637.6 L 535.1,621.7 L 540.9,625.1"/>
<path class="k" d="M 497.5,637.6 L 501.7,640.9 L 526.7,644.3 L 538.4,635.9"/>
<path class="k" d="M 546.7,605.9 L 547.6,625.1 L 545.1,636.7 L 538.4,653.4 L 525.1,673.5"/>
<path class="k" d="M 586.8,625.1 L 586.8,620.1 L 580.1,623.4"/>
<path class="k" d="M 546.7,605.9 L 570.1,602.5 L 573.4,607.5 L 550.1,611.7 Z"/>
<path class="k" d="M 550.1,611.7 L 550.9,626.7 L 573.4,620.1 L 573.4,607.5"/>
<path class="k" d="M 508.4,683.5 L 515.0,673.5 L 518.4,668.4"/>
<path class="k" d="M 507.5,696.0 L 509.2,678.5 L 518.4,668.4"/>
<path class="k" d="M 521.7,694.3 L 528.4,685.1 L 543.4,685.1"/>
<path class="k" d="M 550.9,626.7 L 558.4,625.1 L 566.8,630.1 L 580.1,634.2"/>
<path class="k" d="M 558.4,625.1 L 546.7,643.4"/>
<path class="t" d="M 536.7,655.1 L 556.8,665.1"/>
<path class="t" d="M 535.1,660.1 L 553.4,669.3"/>
<path class="t" d="M 551.8,645.1 L 566.8,651.8"/>
<path class="t" d="M 550.1,648.4 L 563.4,655.1"/>
<path class="t" d="M 521.7,671.8 L 543.4,685.1"/>
<path class="t" d="M 520.0,676.8 L 536.7,686.8"/>
<path class="t" d="M 543.4,640.1 L 551.8,644.3"/>
<path class="t" d="M 548.4,607.0 L 570.9,603.7"/>
<path class="t" d="M 548.7,608.4 L 571.4,604.9"/>
<path class="t" d="M 549.1,609.7 L 572.1,606.0"/>
<path class="t" d="M 549.4,610.9 L 572.8,607.0"/>
<path class="t" d="M 563.4,616.7 L 563.4,621.7"/>
<path class="t" d="M 568.4,615.1 L 568.4,620.1"/>
<path class="t" d="M 555.1,621.7 L 561.8,625.1 L 558.4,636.7"/>
<path class="t" d="M 530.1,653.4 L 536.7,655.1"/>
<path class="t" d="M 518.4,668.4 L 521.7,671.8"/>
<path class="k" d="M 530.1,653.4 L 550.1,663.4"/>
<path class="k" d="M 537.6,640.1 L 558.4,648.4"/>
<path class="k" d="M 540.9,625.9 L 550.1,630.1 L 566.8,636.7"/>
<path class="k" d="M 518.4,668.4 L 535.1,678.5 L 545.9,685.1"/>
<path class="k" d="M 553.4,644.3 L 566.8,651.8"/>
<path class="k" d="M 546.7,663.4 L 555.1,670.1"/>
<path class="k" d="M 525.1,673.5 L 535.1,690.1"/>
<path class="k" d="M 515.0,673.5 L 521.7,694.3"/>
<path class="t" d="M 543.4,633.4 L 563.4,641.8"/>
<path class="t" d="M 533.4,646.8 L 553.4,656.8"/>
<path class="t" d="M 523.4,663.4 L 543.4,676.8"/>
<path class="t" d="M 555.1,636.7 L 573.4,643.4"/>
<path class="t" d="M 558.4,630.1 L 580.1,634.2"/>
<ellipse class="t" cx="508.0" cy="671.8" rx="3.00" ry="5.01" transform="rotate(20 508.0 671.8)"/>
<circle class="kb" cx="496.7" cy="674.8" r="0.58"/>
<circle class="kb" cx="538.7" cy="597.0" r="0.58"/>
<circle class="kb" cx="550.1" cy="592.5" r="0.58"/>
<circle class="kb" cx="573.4" cy="582.0" r="0.58"/>
<circle class="kb" cx="533.4" cy="624.2" r="0.58"/>
<circle class="kb" cx="558.4" cy="656.8" r="0.58"/>
<circle class="kb" cx="551.8" cy="615.1" r="0.58"/>
<circle class="kb" cx="559.3" cy="613.1" r="0.58"/>
<circle class="kb" cx="581.0" cy="633.4" r="1.33"/>
<path class="ld" d="M 616.7,615.1 L 624.2,638.4 L 637.5,644.3 L 653.4,641.8 L 659.2,656.8 L 678.4,663.5 L 693.4,661.0 L 703.5,666.8 L 723.5,666.8 L 738.5,661.0"/>
<path class="k" d="M 641.7,638.4 L 657.6,630.1 L 664.2,615.9 L 668.4,615.1 L 683.4,625.9 L 692.6,633.4 L 693.4,661.0"/>
<path class="k" d="M 657.6,630.1 L 675.1,629.2 L 678.4,663.5"/>
<path class="k" d="M 675.1,629.2 L 692.6,633.4"/>
<path class="k" d="M 668.4,615.1 L 675.1,629.2"/>
<path class="k" d="M 637.5,644.3 L 641.7,638.4"/>
<path class="k" d="M 640.0,635.1 L 648.4,631.8 L 653.4,641.8"/>
<path class="k" d="M 694.3,635.9 L 720.1,657.6"/>
<path class="k" d="M 701.8,638.4 L 716.8,654.3"/>
<path class="k" d="M 695.9,634.3 L 722.6,656.8"/>
<path class="t" d="M 660.9,626.7 L 673.4,633.4"/>
<path class="t" d="M 666.7,617.6 L 680.1,625.9"/>
<path class="t" d="M 678.4,643.4 L 690.9,650.9"/>
<path class="t" d="M 678.4,653.4 L 688.4,660.1"/>
<path class="t" d="M 663.4,620.1 L 676.8,627.6"/>
<path class="t" d="M 648.4,631.8 L 650.1,638.4"/>
<circle class="kw" cx="656.7" cy="628.1" r="1.67"/>
<circle class="kw" cx="683.1" cy="623.7" r="1.67"/>
<circle class="kw" cx="693.8" cy="631.8" r="1.67"/>
<circle class="kw" cx="720.1" cy="656.8" r="2.34"/>
<circle class="kw" cx="693.4" cy="650.9" r="1.33"/>
<circle class="kb" cx="620.9" cy="618.1" r="0.50"/>
<circle class="kb" cx="673.4" cy="632.6" r="0.50"/>
<circle class="kb" cx="674.3" cy="645.1" r="0.50"/>
<circle class="kb" cx="703.1" cy="678.1" r="2.34"/>
<circle class="kw" cx="702.8" cy="677.8" r="0.83"/>
<path class="kb" d="M 705.1,676.8 L 710.1,675.5 L 709.8,677.8 L 705.5,679.1 Z"/>
<path class="ld" d="M 703.8,681.0 L 701.0,709.3"/>
<path class="t" d="M 710.1,676.0 L 798.2,640.3"/>
<path class="ld" d="M808,460 L781,497"/>
<path class="t" d="M 478.3,697.1 L 492.5,688.8"/>
<circle class="t" cx="494.2" cy="687.6" r="0.83"/>
<circle class="kb" cx="474.3" cy="697.6" r="2.8"/>
<circle class="kw" cx="473.8" cy="697.2" r="0.8" stroke-width="0.5"/>
<path class="kb" d="M475.5,694.5 L479.5,693 L480,696 L476.5,698 Z"/>
<path class="ld" d="M474.5,702 L467.5,727"/>
<path class="t" d="M 555.1,490.8 L 555.1,530.1"/>
<path class="k" d="M 567.6,507.5 L 598.5,487.5 L 603.5,486.7 L 612.0,490.0 L 612.0,521.7 L 596.8,528.4 L 596.8,536.7 L 567.6,553.4"/>
<path class="ld" d="M 567.6,507.5 L 598.5,487.5"/>
<path class="ld" d="M 567.6,553.4 L 596.8,536.7"/>
<path class="k" d="M 593.5,501.7 L 596.8,499.2 L 603.5,500.0 L 612.0,496.7"/>
<path class="k" d="M 593.5,501.7 L 590.1,513.4 L 585.1,520.0 L 576.8,525.9 L 570.1,527.6 L 567.6,525.1 L 570.1,521.7 L 576.8,519.2 L 585.1,515.0"/>
<path class="k" d="M 598.5,511.7 L 599.3,526.7 L 603.5,525.9 L 603.5,510.9 Z"/>
<path class="k" d="M 570.1,521.7 L 585.1,518.4"/>
<path class="k" d="M 596.8,505.0 L 601.8,503.4 L 612.0,505.0"/>
<circle class="kb" cx="583.5" cy="512.5" r="0.58"/>
<circle class="kb" cx="580.1" cy="533.7" r="0.58"/>
<circle class="kb" cx="589.3" cy="533.1" r="0.58"/>
<circle class="kb" cx="576.8" cy="561.8" r="0.58"/>
<path class="t" d="M 558.4,511.7 L 560.9,510.9 L 560.9,521.7 L 558.4,522.5 Z"/>
<path class="t" d="M 558.4,535.1 L 560.1,534.4 L 560.1,545.1 L 558.4,545.7 Z"/>
<path class="t" d="M 601.8,513.4 L 601.8,525.1"/>
<path class="kw" d="M 470.0,611.8 L 475.0,600.1 L 477.5,586.8 L 475.8,575.9 L 480.0,574.3 L 481.7,576.8 L 489.2,568.4 L 493.4,566.8 L 499.2,560.1 L 505.0,551.8 L 510.0,550.1 L 514.2,550.9 L 518.4,545.1 L 526.7,536.7 L 536.7,524.2 L 539.2,523.7 L 540.1,530.1 L 560.9,526.4 L 560.9,530.1 L 525.9,548.4 L 525.1,566.8 L 520.1,570.1 L 520.1,602.6 L 523.4,604.3 L 525.1,584.3 L 556.8,560.1 L 555.9,555.9 L 560.1,555.1"/>
<path class="ld" d="M 518.4,545.1 L 560.9,526.4"/>
<path class="ld" d="M 520.1,548.7 L 560.9,530.1"/>
<path class="ld" d="M 470.0,611.8 L 503.4,600.1 L 520.1,603.5"/>
<path class="ld" d="M 526.7,536.7 L 536.7,524.2 L 539.2,523.7 L 540.1,530.1"/>
<path class="ld" d="M 525.1,584.3 L 556.8,560.1"/>
<path class="k" d="M 518.4,545.1 L 525.1,546.7 L 525.9,548.4"/>
<path class="k" d="M 520.1,570.1 L 504.2,572.6 L 491.7,569.3 L 489.2,568.4"/>
<path class="k" d="M 504.2,572.6 L 503.4,600.1"/>
<path class="k" d="M 481.7,576.8 L 504.2,572.6"/>
<path class="k" d="M 499.2,560.1 L 512.5,558.4 L 514.2,550.9"/>
<path class="k" d="M 500.0,563.4 L 505.9,565.1 L 511.7,563.4 L 512.5,558.4"/>
<path class="k" d="M 518.4,545.1 L 517.6,563.4 L 520.1,570.1"/>
<path class="k" d="M 505.0,551.8 L 503.4,558.4"/>
<path class="k" d="M 480.0,574.3 L 477.5,586.8"/>
<path class="k" d="M 527.6,540.1 L 540.1,530.1"/>
<path class="k" d="M 555.9,555.9 L 556.8,530.1"/>
<path class="k" d="M 493.4,566.8 L 500.0,563.4"/>
<circle class="t" cx="505.9" cy="560.1" r="1.67"/>
<circle class="kb" cx="484.2" cy="583.1" r="0.58"/>
<circle class="kb" cx="476.7" cy="603.8" r="0.58"/>
<circle class="kb" cx="528.4" cy="540.1" r="0.58"/>
<circle class="kb" cx="538.1" cy="538.4" r="0.58"/>
<circle class="kb" cx="549.8" cy="533.1" r="0.58"/>
<circle class="kb" cx="526.7" cy="544.2" r="0.58"/>
<circle class="kb" cx="510.9" cy="557.6" r="0.58"/>
<circle class="kb" cx="494.7" cy="567.1" r="0.58"/>
<circle class="kb" cx="504.2" cy="571.4" r="0.58"/>
<path class="t" d="M 552.6,521.7 L 554.3,520.9 L 554.3,525.1 L 552.6,525.9 Z"/>
<path class="ld" d="M 492.5,497.5 L 530.1,530.1"/>
<path class="kw" d="M90.0,697.5 L94.2,696.7 L241.7,750.9 L251.8,754.2 L286.0,766.8 L287.6,783.4 L283.5,785.9 L270.1,781.8 L96.7,721.7 L90.4,715.9 L93.4,713.4 L94.2,706.7 Z"/>
<path class="ld" d="M96.7,721.7 L270.1,781.8 L283.5,785.9"/>
<path class="ld" d="M94.2,696.7 L116.6,704.7"/>
<path d="M 116.6,704.7 L 210.0,739.2" fill="none" stroke="#000" stroke-width="1.5" stroke-dasharray="5 3.5"/>
<path class="ld" d="M210.0,739.2 L241.7,750.9 L251.8,754.2 L286.0,766.8"/>
<path class="t" d="M95.0,719.2 L270.9,779.3"/>
<path class="t" d="M120.1,715.0 L245.1,760.1"/>
<path class="k" d="M 270.1,767.6 L 270.9,781.8"/>
<path class="k" d="M 270.1,767.6 L 273.4,765.9 L 286.0,766.8"/>
<path class="k" d="M 272.6,769.3 L 273.4,780.9 L 284.3,784.3"/>
<ellipse class="t" cx="104.2" cy="713.4" rx="3.67" ry="4.67" transform="rotate(-10 104.2 713.4)"/>
<circle class="t" cx="134.2" cy="726.4" r="0.83"/>
<circle class="t" cx="229.2" cy="760.9" r="0.83"/>
<ellipse class="k" cx="260.1" cy="770.1" rx="3.00" ry="4.17" transform="rotate(-10 260.1 770.1)"/>
<ellipse class="t" cx="282.1" cy="773.4" rx="1.50" ry="2.34" transform="rotate(-10 282.1 773.4)"/>
<path class="kb" d="M 209.2,773.4 L 212.5,770.4 L 215.9,770.1 L 219.2,774.3 L 214.2,776.4 Z"/>
<path class="t" d="M 215.0,765.9 L 215.0,770.1"/>
<path class="ld" d="M 215.9,775.9 L 220.9,836.8"/>
<path class="kw" d="M 95.9,660.9 L 105.9,663.4 L 106.8,673.4 L 113.4,690.1 L 118.4,713.5 L 119.3,721.8 L 115.9,724.3 L 112.6,722.7 L 110.9,711.8 L 103.4,686.8 L 96.8,670.1 Z"/>
<path class="t" d="M 99.3,662.6 L 101.8,673.4 L 110.1,693.5 L 115.9,713.5"/>
<circle class="t" cx="115.4" cy="719.3" r="1.17"/>
<path class="kw" d="M 231.7,730.0 L 238.4,727.5 L 243.4,738.4 L 250.1,756.7 L 250.9,768.4 L 247.6,771.8 L 244.2,769.3 L 243.4,756.7 L 236.7,740.1 Z"/>
<path class="t" d="M 235.1,730.0 L 240.9,741.7 L 246.7,758.4 L 247.6,768.4"/>
<circle class="t" cx="247.2" cy="767.6" r="1.00"/>
<path class="kw" d="M37.5,605.9 L45.0,603.0 L282.0,690.1 L285.1,690.0 L286.0,732.5 L283.5,733.7 L263.4,727.5 L256.8,730.9 L256.8,729.3 L256.8,700.1 L241.8,703.5 L233.4,707.6 L215.1,706.0 L199.2,700.1 L197.6,698.4 L152.5,680.1 L150.8,678.1 L140.0,675.1 L97.6,660.1 L81.7,667.6 L66.7,661.8 L63.4,658.4 L50.9,655.9 L45.0,646.7 Z"/>
<path class="ld" d="M45.0,603.0 L282.0,690.1"/>
<path class="t" d="M42.5,608.4 L96.8,628.4 L260.1,686.8"/>
<path class="k" d="M 37.5,605.9 L 40.9,612.5 L 41.7,607.5"/>
<path class="k" d="M 45.0,612.5 L 45.0,646.7"/>
<path class="k" d="M 49.2,615.9 L 50.0,653.4 L 55.9,656.8"/>
<path class="k" d="M 54.2,619.2 L 60.0,615.0 L 96.8,628.4 L 96.8,650.1 L 90.1,648.4 L 61.7,653.4 L 55.9,651.8 L 54.2,646.7 Z"/>
<path class="k" d="M 60.0,624.2 L 71.7,620.0 L 88.4,625.9 L 88.4,646.7"/>
<path class="k" d="M 60.0,624.2 L 75.1,630.1 L 88.4,625.9"/>
<path class="k" d="M 75.1,630.1 L 75.1,650.1"/>
<path class="k" d="M 60.0,624.2 L 60.9,650.1"/>
<path class="t" d="M 46.7,626.7 L 48.4,626.7 L 48.4,635.1 L 46.7,635.1 Z"/>
<path class="t" d="M 64.2,617.5 L 64.7,622.5"/>
<path class="t" d="M 91.8,628.4 L 92.1,646.7"/>
<path class="t" d="M 94.3,630.1 L 94.3,648.4"/>
<ellipse class="t" cx="57.5" cy="652.6" rx="2.00" ry="2.34" transform="rotate(0 57.5 652.6)"/>
<ellipse class="t" cx="56.7" cy="635.1" rx="1.17" ry="3.67" transform="rotate(-5 56.7 635.1)"/>
<circle class="t" cx="78.4" cy="660.1" r="0.83"/>
<circle class="kb" cx="130.1" cy="655.1" r="1.33"/>
<circle class="kw" cx="130.1" cy="655.1" r="0.50"/>
<path class="t" d="M 140.0,648.4 L 171.7,657.6 L 171.7,659.2 L 140.0,650.1"/>
<path class="t" d="M 140.0,643.7 L 260.1,687.1"/>
<circle class="kb" cx="175.4" cy="671.8" r="1.00"/>
<circle class="kw" cx="175.4" cy="671.8" r="0.42"/>
<path class="kw" d="M 198.4,675.9 L 210.1,670.1 L 240.1,680.1 L 241.8,703.5 L 233.4,707.6 L 215.1,706.0 L 199.2,700.1 Z"/>
<path class="k" d="M 198.4,675.9 L 213.4,681.8 L 226.8,675.9 L 240.1,680.1"/>
<path class="k" d="M 213.4,681.8 L 214.3,706.0"/>
<path class="k" d="M 230.9,680.1 L 231.8,706.8"/>
<path class="k" d="M 210.1,670.1 L 213.4,681.8"/>
<path class="k" d="M 218.4,680.1 L 226.8,675.9"/>
<ellipse class="k" cx="222.6" cy="695.9" rx="5.34" ry="4.67" transform="rotate(0 222.6 695.9)"/>
<path class="k" d="M 240.1,680.1 L 263.5,686.8 L 264.3,690.9 L 257.6,693.4 L 256.8,700.1"/>
<path class="k" d="M 256.8,710.1 L 282.0,716.8"/>
<path class="k" d="M 264.3,706.8 L 282.0,711.8"/>
<path class="k" d="M 256.8,728.5 L 260.1,730.2 L 270.2,726.8 L 282.0,731.8"/>
<circle class="t" cx="243.5" cy="683.1" r="0.83"/>
<circle class="t" cx="247.6" cy="695.9" r="0.83"/>
<ellipse class="t" cx="261.8" cy="716.0" rx="1.00" ry="1.50" transform="rotate(0 261.8 716.0)"/>
<ellipse class="t" cx="265.1" cy="709.3" rx="1.00" ry="1.50" transform="rotate(0 265.1 709.3)"/>
<ellipse class="k" cx="249.3" cy="720.1" rx="2.84" ry="4.51" transform="rotate(-10 249.3 720.1)"/>
<path class="k" d="M 255.9,715.0 L 266.8,709.2 L 285.1,715.0"/>
<path class="k" d="M 256.8,730.9 L 255.9,693.3"/>
<path class="k" d="M 263.4,727.5 L 263.4,711.7"/>
<ellipse class="t" cx="261.4" cy="715.9" rx="1.17" ry="1.67" transform="rotate(0 261.4 715.9)"/>
<path class="t" d="M 215.1,706.8 L 221.8,715.1"/>
<path class="kw" d="M 149.2,621.7 L 188.4,635.0 L 190.9,649.2 L 182.5,653.4 L 140.0,640.0 Z"/>
<path class="t" d="M 152.5,631.7 L 184.2,642.5"/>
<path class="t" d="M 145.0,635.0 L 181.7,650.1"/>
<path class="ld" d="M 140.0,640.0 L 182.5,653.4 L 190.9,649.2"/>
<circle class="kb" cx="154.7" cy="630.0" r="1.67"/>
<circle class="kw" cx="154.7" cy="630.0" r="0.67"/>
<circle class="kb" cx="183.4" cy="640.0" r="1.67"/>
<circle class="kw" cx="183.4" cy="640.0" r="0.67"/>
<path class="ld" d="M 148.0,549.9 L 151.3,621.7"/>
<path class="kb" d="M 34.2,670.9 L 45.0,667.1 L 46.7,665.9 L 47.5,667.6 L 45.9,669.3 L 35.4,672.8 Z"/>
<path class="kb" d="M 40.9,665.9 L 43.4,665.4 L 44.7,670.1 L 42.0,670.9 Z"/>
<path class="ld" d="M 41.7,670.9 L 40.4,707.6"/>
<path class="t" d="M 47.5,665.9 L 94.3,647.6"/>
<circle class="kb" cx="144.3" cy="748.4" r="3.67"/>
<circle class="kw" cx="143.8" cy="748.4" r="1.17"/>
<path class="kb" d="M 146.8,746.4 L 152.3,744.2 L 152.9,746.4 L 147.6,749.2 Z"/>
<circle class="kb" cx="126.7" cy="769.3" r="3.67"/>
<circle class="kw" cx="126.2" cy="769.3" r="1.17"/>
<path class="kb" d="M 129.2,767.3 L 134.7,765.1 L 135.4,767.3 L 130.1,770.1 Z"/>
<path class="ld" d="M 99.2,747.1 L 140.9,747.6"/>
<path class="ld" d="M 97.5,753.1 L 123.4,767.6"/>
<path d="M 152.6,745.1 L 315.3,676.7" fill="none" stroke="#000" stroke-width="0.6" stroke-dasharray="26 5"/>
<path d="M 135.9,765.9 L 250.2,718.4" fill="none" stroke="#000" stroke-width="0.6" stroke-dasharray="26 5"/>
<path class="wf" d="M305.1,653.4 L433.4,601.7 L448.4,608.4 L453.5,615.1 L455.1,640.1 L450.1,644.3 L332.6,693.5 L331.8,666.8 L328.4,662.6 L304.2,653.4 Z"/>
<path d="M 306.7,652.6 L 433.5,601.7" fill="none" stroke="#000" stroke-width="1.6" stroke-dasharray="28 6 15 7 16 7 400"/>
<path class="k" d="M433.4,601.7 L448.4,608.4 L453.5,615.1 L455.1,640.1 L450.1,644.3 L332.6,693.5"/>
<path class="t" d="M323.4,660.1 L448.4,610.1"/>
<path class="t" d="M333.4,658.4 L450.1,612.6"/>
<path class="t" d="M333.4,689.3 L450.1,641.8"/>
<circle class="kb" cx="350.1" cy="642.6" r="0.83"/>
<circle class="kb" cx="358.1" cy="651.4" r="0.83"/>
<circle class="kb" cx="382.6" cy="641.8" r="0.83"/>
<ellipse class="t" cx="365.1" cy="640.4" rx="1.00" ry="0.50" transform="rotate(0 365.1 640.4)"/>
<ellipse class="t" cx="373.1" cy="635.9" rx="1.00" ry="0.50" transform="rotate(0 373.1 635.9)"/>
<ellipse class="t" cx="344.3" cy="674.8" rx="1.00" ry="1.67" transform="rotate(20 344.3 674.8)"/>
<circle class="kb" cx="419.7" cy="614.6" r="0.67"/>
<circle class="kb" cx="422.6" cy="636.4" r="0.67"/>
<circle class="kb" cx="382.5" cy="641.5" r="0.67"/>
<circle class="kb" cx="358.0" cy="651.8" r="0.67"/>
<ellipse class="t" cx="422.1" cy="642.6" rx="1.33" ry="2.00" transform="rotate(20 422.1 642.6)"/>
<ellipse class="t" cx="372.5" cy="635.9" rx="1.00" ry="0.50" transform="rotate(0 372.5 635.9)"/>
<ellipse class="t" cx="365.0" cy="640.1" rx="1.00" ry="0.50" transform="rotate(0 365.0 640.1)"/>
<path class="t" d="M 306.4,642.6 L 336.8,631.4 L 336.8,671.8"/>
<path class="dd" d="M 306.4,560.0 L 306.4,642.6"/>
<path class="kw" d="M 288.4,663.5 L 299.2,652.6 L 304.2,653.4 L 328.4,662.6 L 331.8,666.8 L 332.6,693.5 L 333.4,701.8 L 329.2,708.5 L 324.2,711.0 L 317.6,708.5 L 316.7,705.2 L 301.7,701.8 L 291.7,698.5 L 289.2,693.5 Z"/>
<path class="ld" d="M 288.4,663.5 L 299.2,652.6 L 304.2,653.4 L 328.4,662.6 L 331.8,666.8 L 332.6,693.5 L 333.4,701.8 L 329.2,708.5"/>
<ellipse class="t" cx="298.4" cy="664.8" rx="1.00" ry="1.50" transform="rotate(0 298.4 664.8)"/>
<ellipse class="t" cx="305.1" cy="664.8" rx="1.17" ry="1.67" transform="rotate(0 305.1 664.8)"/>
<ellipse class="t" cx="316.7" cy="693.8" rx="1.17" ry="1.67" transform="rotate(0 316.7 693.8)"/>
<circle class="t" cx="313.4" cy="693.8" r="0.67"/>
<path class="t" d="M 289.2,691.8 Q 290.0,698.5 295.0,700.2"/>
<path class="t" d="M 318.4,706.8 Q 320.9,705.2 322.6,709.3"/>
<path class="t" d="M 286.7,690.2 L 327.6,674.8"/>
<path class="t" d="M 286.7,704.3 L 313.4,694.3"/>
<path class="t" d="M 325.9,673.5 L 328.1,674.8 L 326.4,676.5"/>
<path class="kb" d="M 356.8,608.7 L 358.4,608.7 L 358.6,617.1 L 360.1,617.9 L 360.1,620.4 L 359.1,620.7 L 358.9,624.1 L 356.3,624.1 L 356.1,620.7 L 355.1,620.4 L 355.1,617.9 L 356.6,617.1 Z"/>
<path class="t" d="M 357.6,625.1 L 357.6,640.1"/>
<path class="ld" d="M 333.4,601.7 L 355.1,615.9"/>
<path class="kb" d="M 377.2,580.5 L 378.9,580.5 L 379.0,588.9 L 380.5,589.7 L 380.5,592.2 L 379.5,592.6 L 379.4,595.9 L 376.7,595.9 L 376.5,592.6 L 375.5,592.2 L 375.5,589.7 L 377.0,588.9 Z"/>
<path class="t" d="M 378.0,596.4 L 378.0,630.1"/>
<path class="ld" d="M 379.7,581.7 L 405.9,559.7"/>
<path class="kb" d="M 290.4,643.4 L 293.4,642.6 L 297.0,644.3 L 297.5,646.8 L 294.2,648.4 L 290.9,646.8 Z"/>
<path class="t" d="M 297.5,647.6 L 306.7,651.8"/>
<path class="ld" d="M 268.3,603.1 L 291.7,642.6"/>
<path class="ld" d="M 345.1,689.3 L 383.6,731.7"/>

</svg>
</body></html>
